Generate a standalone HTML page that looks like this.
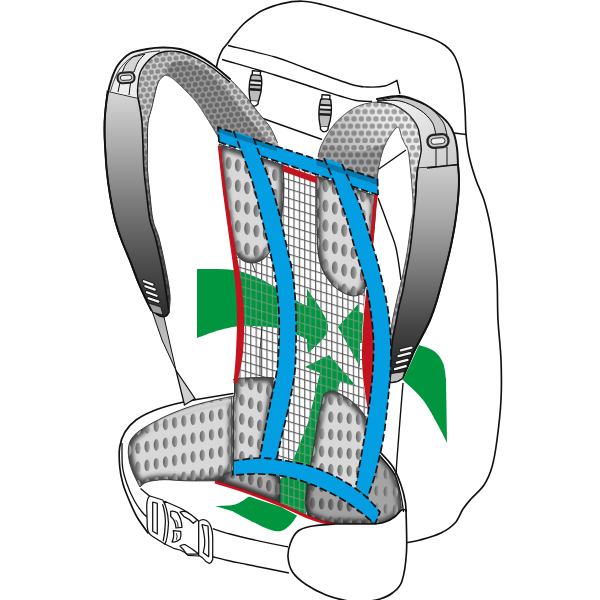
<!DOCTYPE html>
<html lang="en"><head><meta charset="utf-8"><title>Backpack ventilation system</title>
<style>html,body{margin:0;padding:0;background:#fff;overflow:hidden}svg{display:block}</style>
</head><body>
<svg width="600" height="600" viewBox="0 0 600 600">
<defs>
<linearGradient id="gL" gradientUnits="userSpaceOnUse" x1="0" y1="92" x2="0" y2="312">
<stop offset="0" stop-color="#d6d6d6"/><stop offset="0.25" stop-color="#ababab"/><stop offset="0.5" stop-color="#7c7c7c"/><stop offset="0.75" stop-color="#525252"/><stop offset="1" stop-color="#2e2e2e"/></linearGradient>
<linearGradient id="gR" gradientUnits="userSpaceOnUse" x1="0" y1="165" x2="0" y2="380">
<stop offset="0" stop-color="#cccccc"/><stop offset="0.25" stop-color="#a8a8a8"/><stop offset="0.5" stop-color="#787878"/><stop offset="0.75" stop-color="#454545"/><stop offset="0.92" stop-color="#2c2c2c"/><stop offset="1" stop-color="#2a2a2a"/></linearGradient>
<pattern id="mS" patternUnits="userSpaceOnUse" width="6.50" height="11.30" patternTransform="rotate(-6)"><rect width="6.50" height="11.30" fill="#d4d4d4"/><circle cx="3.25" cy="2.83" r="2.60" fill="#8a8a8a"/><circle cx="0" cy="8.48" r="2.60" fill="#8a8a8a"/><circle cx="6.50" cy="8.48" r="2.60" fill="#8a8a8a"/></pattern>
<pattern id="mSd" patternUnits="userSpaceOnUse" width="6.50" height="11.30" patternTransform="rotate(-6)"><rect width="6.50" height="11.30" fill="#9c9c9c"/><circle cx="3.25" cy="2.83" r="2.60" fill="#686868"/><circle cx="0" cy="8.48" r="2.60" fill="#686868"/><circle cx="6.50" cy="8.48" r="2.60" fill="#686868"/></pattern>
<pattern id="mB" patternUnits="userSpaceOnUse" width="7.30" height="14.40" patternTransform="rotate(0)"><rect width="7.30" height="14.40" fill="#efefef"/><circle cx="3.65" cy="3.60" r="2.75" fill="#a4a4a4"/><circle cx="0" cy="10.80" r="2.75" fill="#a4a4a4"/><circle cx="7.30" cy="10.80" r="2.75" fill="#a4a4a4"/></pattern>
<pattern id="mBd" patternUnits="userSpaceOnUse" width="7.30" height="14.40" patternTransform="rotate(0)"><rect width="7.30" height="14.40" fill="#a2a2a2"/><circle cx="3.65" cy="3.60" r="2.75" fill="#6e6e6e"/><circle cx="0" cy="10.80" r="2.75" fill="#6e6e6e"/><circle cx="7.30" cy="10.80" r="2.75" fill="#6e6e6e"/></pattern>
<linearGradient id="shR" gradientUnits="userSpaceOnUse" x1="420" y1="100" x2="325" y2="175"><stop offset="0" stop-color="#000" stop-opacity="0"/><stop offset="0.35" stop-color="#000" stop-opacity="0.03"/><stop offset="0.6" stop-color="#000" stop-opacity="0.16"/><stop offset="1" stop-color="#000" stop-opacity="0.3"/></linearGradient>
<pattern id="grid" patternUnits="userSpaceOnUse" width="5.4" height="9.3" patternTransform="matrix(1 0.3 0 1 282.6 168)">
<path d="M0 0.6H5.4M0.6 0V9.3" stroke="#5e5e5e" stroke-width="1.15" fill="none"/></pattern>
<pattern id="gridg" patternUnits="userSpaceOnUse" width="5.4" height="9.3" patternTransform="matrix(1 0.3 0 1 282.6 168)">
<path d="M0 0.6H5.4M0.6 0V9.3" stroke="#62987a" stroke-width="1.15" fill="none"/></pattern>
<linearGradient id="dimp" x1="0" y1="0" x2="1" y2="0"><stop offset="0" stop-color="#626262"/><stop offset="1" stop-color="#adadad"/></linearGradient>
<filter id="blur2" x="-20%" y="-20%" width="140%" height="140%"><feGaussianBlur stdDeviation="2.2"/></filter>
<linearGradient id="gW" gradientUnits="userSpaceOnUse" x1="0" y1="312" x2="0" y2="400"><stop offset="0" stop-color="#b2b2b2"/><stop offset="1" stop-color="#d6d6d6"/></linearGradient>
<linearGradient id="shL" gradientUnits="userSpaceOnUse" x1="0" y1="110" x2="0" y2="312"><stop offset="0" stop-color="#000" stop-opacity="0"/><stop offset="0.4" stop-color="#000" stop-opacity="0.35"/><stop offset="1" stop-color="#000" stop-opacity="0.7"/></linearGradient>
<linearGradient id="gBR" gradientUnits="userSpaceOnUse" x1="400" y1="100" x2="440" y2="168"><stop offset="0" stop-color="#efefef"/><stop offset="1" stop-color="#cfcfcf"/></linearGradient>
<clipPath id="cpanel"><path d="M219.0 146.0 C219.5 150.8 221.0 166.0 222.0 175.0 C223.0 184.0 223.5 189.2 225.0 200.0 C226.5 210.8 229.0 227.2 231.0 240.0 C233.0 252.8 235.5 264.5 237.0 277.0 C238.5 289.5 239.7 302.5 240.0 315.0 C240.3 327.5 239.8 339.5 239.0 352.0 C238.2 364.5 236.0 382.7 235.0 390.0 C234.0 397.3 233.3 395.0 233.0 396.0 L233.0 396.0 C230.0 410.2 218.0 466.8 215.0 481.0 L215.0 481.0 C220.3 482.7 236.0 487.2 247.0 491.0 C258.0 494.8 270.8 499.8 281.0 504.0 C291.2 508.2 300.3 512.8 308.0 516.0 C315.7 519.2 323.8 521.8 327.0 523.0 L327.0 523.0 C335.5 523.2 369.5 523.8 378.0 524.0 L378.0 524.0 C377.7 516.7 377.0 494.0 376.0 480.0 C375.0 466.0 373.3 451.7 372.0 440.0 C370.7 428.3 369.5 420.0 368.0 410.0 C366.5 400.0 364.0 391.7 363.0 380.0 C362.0 368.3 361.7 354.2 362.0 340.0 C362.3 325.8 363.3 310.0 365.0 295.0 C366.7 280.0 370.3 262.5 372.0 250.0 C373.7 237.5 374.1 229.2 375.0 220.0 C375.9 210.8 377.1 199.2 377.5 195.0 L378.0 180.0 L219.0 128.0 Z"/></clipPath>
<clipPath id="cgreen"><path d="M197.0 269.0 C203.0 269.2 222.5 268.3 233.0 270.0 C243.5 271.7 252.3 275.7 260.0 279.0 C267.7 282.3 271.2 285.3 279.0 290.0 C286.8 294.7 302.3 304.2 307.0 307.0 L307.0 289.0 C310.5 295.3 327.8 316.3 328.0 327.0 C328.2 337.7 311.3 348.7 308.0 353.0 L307.0 339.0 C302.3 337.2 289.5 330.2 279.0 328.0 C268.5 325.8 253.8 325.7 244.0 326.0 C234.2 326.3 227.8 328.0 220.0 330.0 C212.2 332.0 200.8 336.7 197.0 338.0 Z"/><path d="M338 327 L359 303 L359 313 L372 313 L372 343 L360 343 L360 367 Z"/><path d="M329 355 L305 367 L320 373 L308 423 L292 463 L280 480 L280 503 L306 515 L312 470 L330 420 L340 381 L356 386 Z"/></clipPath>
<clipPath id="cp1"><path d="M219.0 144.0 C229.7 147.5 272.3 161.5 283.0 165.0 L284.0 185.0 C283.8 188.3 283.7 198.3 283.0 205.0 C282.3 211.7 281.3 218.7 280.0 225.0 C278.7 231.3 276.8 238.3 275.0 243.0 C273.2 247.7 271.2 250.2 269.0 253.0 C266.8 255.8 264.8 258.3 262.0 260.0 C259.2 261.7 255.3 263.0 252.0 263.0 C248.7 263.0 244.8 262.0 242.0 260.0 C239.2 258.0 236.8 254.3 235.0 251.0 C233.2 247.7 231.7 241.8 231.0 240.0 L231.0 240.0 C230.0 233.3 226.5 210.8 225.0 200.0 C223.5 189.2 223.0 184.0 222.0 175.0 C221.0 166.0 219.5 150.8 219.0 146.0 Z"/></clipPath>
<clipPath id="cp2"><path d="M316.7 176.0 C326.6 179.3 366.1 192.7 376.0 196.0 L375.0 220.0 C374.5 225.0 373.2 240.8 372.0 250.0 C370.8 259.2 369.2 268.5 368.0 275.0 C366.8 281.5 365.5 286.7 365.0 289.0 L363.0 293.0 C361.3 293.5 357.1 296.7 352.7 296.0 C348.3 295.3 341.4 292.4 336.7 288.7 C332.0 285.0 327.7 279.3 324.7 274.0 C321.7 268.7 320.0 264.0 318.7 256.7 C317.4 249.4 317.3 239.4 317.0 230.0 C316.7 220.6 316.8 205.0 316.7 200.0 Z"/></clipPath>
<clipPath id="cp3"><path d="M234.5 381.0 C234.9 380.6 230.9 379.1 237.0 378.5 C243.1 377.9 265.0 377.2 271.0 377.5 C277.0 377.8 272.7 379.6 273.0 380.0 L273.0 380.0 C273.0 382.3 273.8 386.5 273.0 394.0 C272.2 401.5 269.5 414.3 268.0 425.0 C266.5 435.7 262.0 449.2 264.0 458.0 C266.0 466.8 277.3 474.7 280.0 478.0 L280.0 503.0 C274.5 501.0 257.8 494.7 247.0 491.0 C236.2 487.3 220.3 482.7 215.0 481.0 L215.0 481.0 L231.5 470.0 L231.5 400.0 L234.5 396.0 Z"/></clipPath>
<clipPath id="cp4"><path d="M305.0 503.0 C305.7 498.3 307.7 483.8 309.0 475.0 C310.3 466.2 311.5 459.2 313.0 450.0 C314.5 440.8 316.3 428.8 318.0 420.0 C319.7 411.2 322.2 400.8 323.0 397.0 L324.0 394.0 C325.5 393.5 328.7 390.0 333.0 391.0 C337.3 392.0 345.0 396.3 350.0 400.0 C355.0 403.7 360.2 409.2 363.0 413.0 C365.8 416.8 366.3 421.3 367.0 423.0 L372.0 440.0 C373.0 442.5 378.0 445.0 378.0 455.0 C378.0 465.0 372.0 488.5 372.0 500.0 C372.0 511.5 377.0 520.0 378.0 524.0 L327.0 523.0 C323.8 521.8 311.2 517.2 308.0 516.0 Z"/></clipPath>
<clipPath id="cp5"><path d="M368.0 440.0 C368.7 440.0 370.2 437.7 372.0 440.0 C373.8 442.3 375.8 449.2 379.0 454.0 C382.2 458.8 387.8 463.7 391.0 469.0 C394.2 474.3 396.2 479.5 398.0 486.0 C399.8 492.5 400.9 504.3 401.5 508.0 L401.5 508.0 C400.3 509.4 397.2 514.2 394.5 516.5 C391.8 518.8 388.2 520.2 385.0 521.5 C381.8 522.8 376.7 523.6 375.0 524.0 L360.0 505.0 Z"/></clipPath>
<clipPath id="cp6"><path d="M233.5 396.0 C229.2 396.9 215.4 399.7 207.5 401.7 C199.6 403.7 193.2 405.4 186.0 408.0 C178.8 410.6 171.2 413.5 164.0 417.0 C156.8 420.5 147.9 425.2 142.5 428.8 C137.1 432.4 134.0 435.1 131.7 438.5 C129.3 441.9 128.8 445.1 128.4 449.0 C128.0 452.9 128.6 457.7 129.5 462.0 C130.4 466.3 132.2 470.8 134.0 475.0 C135.8 479.2 139.0 485.0 140.0 487.0 L140.0 487.0 C141.2 486.2 143.0 483.2 147.0 482.0 C151.0 480.8 157.5 479.9 164.0 479.7 C170.5 479.5 177.5 480.6 186.0 480.8 C194.5 481.0 210.2 480.8 215.0 480.8 L215.0 480.8 C218.1 479.0 230.4 471.8 233.5 470.0 Z"/></clipPath>
</defs>
<path d="M216.3 67.8 C216.7 66.3 217.4 62.0 218.4 59.0 C219.4 56.0 221.0 52.2 222.5 49.7 C224.0 47.2 225.2 46.3 227.2 43.8 C229.1 41.3 231.5 37.8 234.2 34.5 C236.9 31.2 240.2 27.1 243.5 24.0 C246.8 20.9 250.7 18.1 254.0 15.8 C257.3 13.5 258.6 12.0 263.3 10.0 C268.0 8.0 275.6 5.1 282.0 3.6 C288.4 2.1 295.3 1.1 302.0 1.2 C308.7 1.3 314.0 2.6 322.0 4.5 C330.0 6.4 338.2 8.9 350.0 12.5 C361.8 16.1 380.0 21.9 393.0 26.0 C406.0 30.1 419.3 33.8 428.0 37.0 C436.7 40.2 440.5 42.2 445.0 45.5 C449.5 48.8 452.2 51.2 455.0 57.0 C457.8 62.8 460.3 71.2 462.0 80.0 C463.7 88.8 464.3 101.0 465.0 110.0 C465.7 119.0 465.3 126.3 466.0 134.0 C466.7 141.7 467.3 148.3 469.0 156.0 C470.7 163.7 473.5 172.7 476.0 180.0 C478.5 187.3 481.7 192.7 484.0 200.0 C486.3 207.3 488.3 215.7 490.0 224.0 C491.7 232.3 492.8 240.7 494.0 250.0 C495.2 259.3 496.3 268.3 497.0 280.0 C497.7 291.7 497.3 306.7 498.0 320.0 C498.7 333.3 500.5 346.7 501.0 360.0 C501.5 373.3 501.7 386.7 501.0 400.0 C500.3 413.3 498.5 428.8 497.0 440.0 C495.5 451.2 494.2 459.5 492.0 467.0 C489.8 474.5 487.5 479.7 484.0 485.0 C480.5 490.3 474.5 495.0 471.0 499.0 C467.5 503.0 465.7 505.0 463.0 509.0 C460.3 513.0 458.7 519.0 455.0 523.0 C451.3 527.0 446.8 530.2 441.0 533.0 C435.2 535.8 426.0 538.3 420.0 540.0 C414.0 541.7 407.5 542.5 405.0 543.0 L300 400 Z" fill="#fff" stroke="none" stroke-width="1.65" stroke-linejoin="round"/>
<path d="M216.3 67.8 C216.7 66.3 217.4 62.0 218.4 59.0 C219.4 56.0 221.0 52.2 222.5 49.7 C224.0 47.2 225.2 46.3 227.2 43.8 C229.1 41.3 231.5 37.8 234.2 34.5 C236.9 31.2 240.2 27.1 243.5 24.0 C246.8 20.9 250.7 18.1 254.0 15.8 C257.3 13.5 258.6 12.0 263.3 10.0 C268.0 8.0 275.6 5.1 282.0 3.6 C288.4 2.1 295.3 1.1 302.0 1.2 C308.7 1.3 314.0 2.6 322.0 4.5 C330.0 6.4 338.2 8.9 350.0 12.5 C361.8 16.1 380.0 21.9 393.0 26.0 C406.0 30.1 419.3 33.8 428.0 37.0 C436.7 40.2 440.5 42.2 445.0 45.5 C449.5 48.8 452.2 51.2 455.0 57.0 C457.8 62.8 460.3 71.2 462.0 80.0 C463.7 88.8 464.3 101.0 465.0 110.0 C465.7 119.0 465.3 126.3 466.0 134.0 C466.7 141.7 467.3 148.3 469.0 156.0 C470.7 163.7 473.5 172.7 476.0 180.0 C478.5 187.3 481.7 192.7 484.0 200.0 C486.3 207.3 488.3 215.7 490.0 224.0 C491.7 232.3 492.8 240.7 494.0 250.0 C495.2 259.3 496.3 268.3 497.0 280.0 C497.7 291.7 497.3 306.7 498.0 320.0 C498.7 333.3 500.5 346.7 501.0 360.0 C501.5 373.3 501.7 386.7 501.0 400.0 C500.3 413.3 498.5 428.8 497.0 440.0 C495.5 451.2 494.2 459.5 492.0 467.0 C489.8 474.5 487.5 479.7 484.0 485.0 C480.5 490.3 474.5 495.0 471.0 499.0 C467.5 503.0 465.7 505.0 463.0 509.0 C460.3 513.0 458.7 519.0 455.0 523.0 C451.3 527.0 446.8 530.2 441.0 533.0 C435.2 535.8 426.0 538.3 420.0 540.0 C414.0 541.7 407.5 542.5 405.0 543.0" fill="none" stroke="#111" stroke-width="1.65" stroke-linecap="round"/>
<path d="M228.0 45.5 C235.8 47.4 262.2 53.2 275.0 57.0 C287.8 60.8 292.5 63.5 305.0 68.0 C317.5 72.5 339.7 80.8 350.0 84.0 C360.3 87.2 361.2 86.7 367.0 87.0 C372.8 87.3 380.0 87.1 385.0 86.0 C390.0 84.9 395.0 81.4 397.0 80.5 L400 94" fill="none" stroke="#111" stroke-width="1.4"/>
<path d="M222.0 59.5 C230.8 62.1 260.0 70.4 275.0 75.0 C290.0 79.6 301.2 83.5 312.0 87.0 C322.8 90.5 332.7 93.8 340.0 96.0 C347.3 98.2 350.7 99.6 356.0 100.5 C361.3 101.4 369.3 101.3 372.0 101.5" fill="none" stroke="#111" stroke-width="1.4"/>
<path d="M454 133 L466 134.5" stroke="#111" stroke-width="1.4"/>
<path d="M263 118.5 L322 139.5" fill="none" stroke="#111" stroke-width="1.4"/>
<path d="M377.5 170 L406 150" stroke="#111" stroke-width="1.4"/>
<path d="M378.0 198.0 C379.7 202.5 385.0 216.7 388.0 225.0 C391.0 233.3 393.8 238.8 396.0 248.0 C398.2 257.2 400.2 274.7 401.0 280.0" fill="none" stroke="#111" stroke-width="1.4"/>
<path d="M403.0 383.0 C402.5 389.2 401.0 407.3 400.0 420.0 C399.0 432.7 397.7 449.8 397.0 459.0 C396.3 468.2 396.2 472.3 396.0 475.0" fill="none" stroke="#111" stroke-width="1.4"/>
<g stroke="#111" stroke-width="1.4" stroke-linejoin="round" transform="rotate(4 255.2 89.0)"><rect x="251.2" y="71.0" width="8.1" height="5" fill="#fff"/><path d="M250.2 75.5 Q247.4 88.4 251.2 101.2 L259.3 101.2 Q263.1 88.4 260.3 75.5 Q255.2 74.3 250.2 75.5 Z" fill="#bcbcbc" stroke-width="1.4"/><rect x="249.3" y="79.6" width="11.9" height="1.9" fill="#1a1a1a" stroke="none"/><rect x="249.3" y="84.0" width="11.9" height="1.9" fill="#1a1a1a" stroke="none"/><rect x="249.3" y="88.3" width="11.9" height="2.6" fill="#1a1a1a" stroke="none"/><rect x="250.0" y="82.0" width="10.5" height="1.6" fill="#eee" stroke="none"/><path d="M251.4 101.2 v2.5 q3.9 5 7.7 0 v-2.5" fill="#fff"/></g>
<g stroke="#111" stroke-width="1.4" stroke-linejoin="round" transform="rotate(3 325.0 114.0)"><rect x="321.0" y="95.0" width="8.0" height="5" fill="#fff"/><path d="M320.0 99.5 Q317.2 113.2 321.0 126.9 L329.0 126.9 Q332.8 113.2 330.0 99.5 Q325.0 98.3 320.0 99.5 Z" fill="#bcbcbc" stroke-width="1.4"/><rect x="319.1" y="104.1" width="11.8" height="1.9" fill="#1a1a1a" stroke="none"/><rect x="319.1" y="108.7" width="11.8" height="1.9" fill="#1a1a1a" stroke="none"/><rect x="319.1" y="113.2" width="11.8" height="2.6" fill="#1a1a1a" stroke="none"/><rect x="319.8" y="106.6" width="10.4" height="1.6" fill="#eee" stroke="none"/><path d="M321.2 126.9 v2.5 q3.8 5 7.6 0 v-2.5" fill="#fff"/></g>
<path d="M419.0 345.0 C421.5 346.0 430.0 348.0 434.0 351.0 C438.0 354.0 441.0 358.3 443.0 363.0 C445.0 367.7 445.5 376.3 446.0 379.0 L447.0 443.0 C445.7 440.3 443.0 434.2 439.0 427.0 C435.0 419.8 429.0 407.8 423.0 400.0 C417.0 392.2 406.3 383.3 403.0 380.0 Z" fill="#00953e"/>
<path d="M152 311 L162 340 L176 370.5 L170 344 L164 317 Z" fill="url(#gW)" stroke="#111" stroke-width="1" stroke-linejoin="round"/>
<path d="M230.0 79.0 C227.2 76.7 218.5 69.0 213.0 65.0 C207.5 61.0 202.5 57.7 197.0 55.0 C191.5 52.3 185.7 50.2 180.0 49.0 C174.3 47.8 168.5 47.5 163.0 47.5 C157.5 47.5 152.5 48.0 147.0 49.0 C141.5 50.0 134.8 50.8 130.0 53.5 C125.2 56.2 121.0 60.9 118.0 65.0 C115.0 69.1 113.8 73.0 112.0 78.0 C110.2 83.0 108.7 88.8 107.5 95.0 C106.3 101.2 105.5 109.2 105.0 115.0 C104.5 120.8 104.5 125.0 104.5 130.0 C104.5 135.0 104.6 138.3 105.0 145.0 C105.4 151.7 105.9 161.7 106.7 170.0 C107.5 178.3 108.6 186.7 110.0 195.0 C111.4 203.3 113.1 212.5 115.0 220.0 C116.9 227.5 118.9 233.0 121.5 240.0 C124.1 247.0 127.7 254.8 130.5 262.0 C133.3 269.2 136.0 276.9 138.5 283.0 C141.0 289.1 143.4 294.1 145.5 298.5 C147.6 302.9 150.1 307.7 151.0 309.5 L151.0 310.0 C152.5 311.0 157.5 315.0 160.0 316.0 C162.5 317.0 164.5 316.7 166.0 316.0 C167.5 315.3 168.5 312.7 169.0 312.0 L169.0 312.0 C169.2 309.2 170.5 302.0 170.0 295.0 C169.5 288.0 167.8 279.5 166.0 270.0 C164.2 260.5 161.2 246.3 159.0 238.0 C156.8 229.7 154.5 227.2 153.0 220.0 C151.5 212.8 150.9 203.3 150.0 195.0 C149.1 186.7 147.9 178.3 147.5 170.0 C147.1 161.7 147.4 152.8 147.5 145.0 C147.6 137.2 147.2 129.3 148.0 123.0 C148.8 116.7 150.3 113.7 152.0 107.0 C153.7 100.3 155.8 88.3 158.0 83.0 C160.2 77.7 163.8 76.3 165.0 75.0 L165.0 75.0 C166.2 75.5 168.7 75.5 172.0 78.0 C175.3 80.5 180.8 85.8 185.0 90.0 C189.2 94.2 193.7 98.8 197.0 103.0 C200.3 107.2 202.3 110.8 205.0 115.0 C207.7 119.2 210.5 123.8 213.0 128.0 C215.5 132.2 218.8 138.0 220.0 140.0 L220.0 140.0 L281.0 152.0 L277.5 143.0 L270.0 127.0 L257.0 111.0 L244.0 94.0 Z" fill="url(#mS)"/>
<path d="M169.0 312.0 C169.2 309.2 170.5 302.0 170.0 295.0 C169.5 288.0 167.8 279.5 166.0 270.0 C164.2 260.5 161.2 246.3 159.0 238.0 C156.8 229.7 154.5 227.2 153.0 220.0 C151.5 212.8 150.9 203.3 150.0 195.0 C149.1 186.7 147.9 178.3 147.5 170.0 C147.1 161.7 147.4 152.8 147.5 145.0 C147.6 137.2 147.9 126.7 148.0 123.0 L142.0 123.0 C142.2 126.7 142.7 137.2 143.0 145.0 C143.3 152.8 143.4 161.7 144.0 170.0 C144.6 178.3 145.7 186.7 146.7 195.0 C147.7 203.3 148.5 212.8 150.0 220.0 C151.5 227.2 153.4 229.7 155.5 238.0 C157.6 246.3 160.7 260.5 162.5 270.0 C164.3 279.5 165.4 288.0 166.5 295.0 C167.6 302.0 168.6 309.2 169.0 312.0 Z" fill="url(#shL)"/>
<path d="M165.0 76.0 C165.2 74.8 165.3 71.2 166.5 69.0 C167.7 66.8 169.8 64.3 172.0 63.0 C174.2 61.7 176.3 60.8 180.0 61.0 C183.7 61.2 189.0 62.0 194.0 64.0 C199.0 66.0 204.7 68.7 210.0 73.0 C215.3 77.3 221.0 84.2 226.0 90.0 C231.0 95.8 235.3 102.3 240.0 108.0 C244.7 113.7 249.7 119.0 254.0 124.0 C258.3 129.0 262.8 134.2 266.0 138.0 C269.2 141.8 271.8 145.5 273.0 147.0 L274.0 151.0 L222.0 142.0 L220.0 140.0 C218.8 138.0 215.5 132.2 213.0 128.0 C210.5 123.8 207.7 119.2 205.0 115.0 C202.3 110.8 200.3 107.2 197.0 103.0 C193.7 98.8 189.2 94.2 185.0 90.0 C180.8 85.8 175.3 80.5 172.0 78.0 C168.7 75.5 166.2 75.5 165.0 75.0 Z" fill="url(#mSd)"/>
<path d="M107.5 91.0 C107.1 95.0 105.5 108.5 105.0 115.0 C104.5 121.5 104.5 125.0 104.5 130.0 C104.5 135.0 104.6 138.3 105.0 145.0 C105.4 151.7 105.9 161.7 106.7 170.0 C107.5 178.3 108.6 186.7 110.0 195.0 C111.4 203.3 113.1 212.5 115.0 220.0 C116.9 227.5 118.9 233.0 121.5 240.0 C124.1 247.0 127.7 254.8 130.5 262.0 C133.3 269.2 136.0 276.9 138.5 283.0 C141.0 289.1 143.4 294.1 145.5 298.5 C147.6 302.9 150.1 307.7 151.0 309.5 L151.0 310.0 C152.5 311.0 157.5 315.0 160.0 316.0 C162.5 317.0 164.5 316.7 166.0 316.0 C167.5 315.3 168.5 312.7 169.0 312.0 L169.0 312.0 C168.6 309.2 167.6 302.0 166.5 295.0 C165.4 288.0 164.3 279.5 162.5 270.0 C160.7 260.5 157.6 246.3 155.5 238.0 C153.4 229.7 151.5 227.2 150.0 220.0 C148.5 212.8 147.7 203.3 146.7 195.0 C145.7 186.7 144.6 178.3 144.0 170.0 C143.4 161.7 143.3 152.8 143.0 145.0 C142.7 137.2 142.5 129.2 142.0 123.0 C141.5 116.8 140.7 112.2 140.0 108.0 C139.3 103.8 138.3 99.7 138.0 98.0 Z" fill="url(#gL)" stroke="#111" stroke-width="1.65" stroke-linejoin="round"/>
<path d="M107.5 91.0 C108.2 88.8 110.2 82.3 112.0 78.0 C113.8 73.7 115.0 69.1 118.0 65.0 C121.0 60.9 125.2 56.2 130.0 53.5 C134.8 50.8 141.5 50.0 147.0 49.0 C152.5 48.0 157.5 47.5 163.0 47.5 C168.5 47.5 174.3 47.8 180.0 49.0 C185.7 50.2 191.5 52.3 197.0 55.0 C202.5 57.7 207.5 61.0 213.0 65.0 C218.5 69.0 227.2 76.7 230.0 79.0 L230.0 82.0 C227.0 79.6 217.7 71.5 212.0 67.5 C206.3 63.5 201.3 60.6 196.0 58.0 C190.7 55.4 185.2 53.1 180.0 52.0 C174.8 50.9 169.2 51.0 165.0 51.5 C160.8 52.0 158.0 53.2 155.0 55.0 C152.0 56.8 149.5 59.0 147.0 62.0 C144.5 65.0 141.6 68.3 140.0 73.0 C138.4 77.7 137.8 85.8 137.5 90.0 C137.2 94.2 137.9 96.7 138.0 98.0 Z" fill="#ececec"/>
<path d="M230.0 79.0 C227.2 76.7 218.5 69.0 213.0 65.0 C207.5 61.0 202.5 57.7 197.0 55.0 C191.5 52.3 185.7 50.2 180.0 49.0 C174.3 47.8 168.5 47.5 163.0 47.5 C157.5 47.5 152.5 48.0 147.0 49.0 C141.5 50.0 134.8 50.8 130.0 53.5 C125.2 56.2 121.0 60.9 118.0 65.0 C115.0 69.1 113.8 73.0 112.0 78.0 C110.2 83.0 108.7 88.8 107.5 95.0 C106.3 101.2 105.5 109.2 105.0 115.0 C104.5 120.8 104.5 125.0 104.5 130.0 C104.5 135.0 104.6 138.3 105.0 145.0 C105.4 151.7 105.9 161.7 106.7 170.0 C107.5 178.3 108.6 186.7 110.0 195.0 C111.4 203.3 113.1 212.5 115.0 220.0 C116.9 227.5 118.9 233.0 121.5 240.0 C124.1 247.0 127.7 254.8 130.5 262.0 C133.3 269.2 136.0 276.9 138.5 283.0 C141.0 289.1 143.4 294.1 145.5 298.5 C147.6 302.9 150.1 307.7 151.0 309.5" fill="none" stroke="#111" stroke-width="1.95" stroke-linecap="round"/>
<path d="M138.0 98.0 C137.9 96.7 137.2 94.2 137.5 90.0 C137.8 85.8 138.4 77.7 140.0 73.0 C141.6 68.3 144.5 65.0 147.0 62.0 C149.5 59.0 152.0 56.8 155.0 55.0 C158.0 53.2 160.8 52.0 165.0 51.5 C169.2 51.0 174.8 50.9 180.0 52.0 C185.2 53.1 190.7 55.4 196.0 58.0 C201.3 60.6 206.3 63.5 212.0 67.5 C217.7 71.5 227.0 79.6 230.0 82.0" fill="none" stroke="#111" stroke-width="1.3"/>
<path d="M230.0 79.0 C232.3 81.5 239.5 88.7 244.0 94.0 C248.5 99.3 252.7 105.5 257.0 111.0 C261.3 116.5 266.6 121.7 270.0 127.0 C273.4 132.3 276.2 140.3 277.5 143.0" fill="none" stroke="#333" stroke-width="0.9"/>
<path d="M169.0 312.0 C169.2 309.2 170.5 302.0 170.0 295.0 C169.5 288.0 167.8 279.5 166.0 270.0 C164.2 260.5 161.2 246.3 159.0 238.0 C156.8 229.7 154.5 227.2 153.0 220.0 C151.5 212.8 150.9 203.3 150.0 195.0 C149.1 186.7 147.9 178.3 147.5 170.0 C147.1 161.7 147.4 152.8 147.5 145.0 C147.6 137.2 147.2 129.3 148.0 123.0 C148.8 116.7 150.3 113.7 152.0 107.0 C153.7 100.3 155.8 88.3 158.0 83.0 C160.2 77.7 163.8 76.3 165.0 75.0" fill="none" stroke="#333" stroke-width="1"/>
<path d="M165.0 75.0 C166.2 75.5 168.7 75.5 172.0 78.0 C175.3 80.5 180.8 85.8 185.0 90.0 C189.2 94.2 193.7 98.8 197.0 103.0 C200.3 107.2 202.3 110.8 205.0 115.0 C207.7 119.2 210.5 123.8 213.0 128.0 C215.5 132.2 218.8 138.0 220.0 140.0" fill="none" stroke="#555" stroke-width="0.9"/>
<path d="M110.3 91.5 C111.0 89.5 112.8 83.4 114.5 79.5 C116.2 75.6 117.7 71.7 120.5 68.0 C123.3 64.3 127.1 60.1 131.5 57.5 C135.9 54.9 142.2 53.6 147.0 52.5 C151.8 51.4 157.8 51.2 160.0 51.0" fill="none" stroke="#222" stroke-width="0.9"/>
<path d="M118 92 L120.5 80 M129 95 L130.5 83" stroke="#111" stroke-width="1" fill="none"/>
<path d="M122.0 73.0 C122.7 71.5 124.2 66.7 126.0 64.0 C127.8 61.3 131.8 58.2 133.0 57.0 L145.0 54.0 C143.8 55.3 139.8 59.0 138.0 62.0 C136.2 65.0 134.7 70.3 134.0 72.0 Z" fill="#d4d4d4" stroke="#111" stroke-width="1"/>
<g transform="rotate(-4 126 77.5)"><rect x="117.5" y="72.5" width="17" height="10.5" rx="5" fill="#c9c9c9" stroke="#222" stroke-width="2.2"/><rect x="120.3" y="75.3" width="11.4" height="4.9" rx="2.4" fill="#eee" stroke="#222" stroke-width="0.9"/></g>
<path d="M148.2 303 L160.8 307 L163 315 L153 312.3 Z" fill="#9c9c9c" stroke="#111" stroke-width="0.8"/><g stroke-linecap="round" fill="none"><path d="M143.8 281.2 L152.6 284.6" stroke="#111" stroke-width="3.9"/><path d="M145.3 286.2 L154.8 289.6" stroke="#111" stroke-width="3.9"/><path d="M146.9 292.2 L156.6 295.8" stroke="#111" stroke-width="3.9"/><path d="M148.6 298.2 L158.4 301.6" stroke="#111" stroke-width="3.9"/><path d="M143.8 281.2 L152.6 284.6" stroke="#f4f4f4" stroke-width="2.2"/><path d="M145.3 286.2 L154.8 289.6" stroke="#f4f4f4" stroke-width="2.2"/><path d="M146.9 292.2 L156.6 295.8" stroke="#f4f4f4" stroke-width="2.2"/><path d="M148.6 298.2 L158.4 301.6" stroke="#f4f4f4" stroke-width="2.2"/></g>
<path d="M318.0 157.0 C318.5 155.2 319.0 150.5 321.0 146.0 C323.0 141.5 326.7 134.8 330.0 130.0 C333.3 125.2 336.5 121.4 341.0 117.5 C345.5 113.6 351.0 109.1 357.0 106.5 C363.0 103.9 370.8 102.2 377.0 102.0 C383.2 101.8 388.8 103.0 394.0 105.0 C399.2 107.0 404.3 110.8 408.0 114.0 C411.7 117.2 414.7 122.3 416.0 124.0 L416.0 124.0 C416.4 125.0 417.8 127.3 418.5 130.0 C419.2 132.7 419.8 136.7 420.3 140.0 C420.8 143.3 421.4 146.7 421.3 150.0 C421.2 153.3 420.1 156.7 419.5 160.0 C418.9 163.3 418.0 166.7 417.5 170.0 C417.0 173.3 416.9 175.0 416.5 180.0 C416.1 185.0 415.9 192.7 415.3 200.0 C414.7 207.3 413.9 215.7 413.0 224.0 C412.1 232.3 411.2 241.7 410.0 250.0 C408.8 258.3 406.9 267.3 405.7 274.0 C404.5 280.7 404.1 284.6 403.0 290.0 C401.9 295.4 400.2 301.1 399.0 306.7 C397.8 312.2 396.9 317.8 395.8 323.3 C394.7 328.9 393.3 334.4 392.5 340.0 C391.7 345.6 391.2 351.7 390.8 356.7 C390.4 361.7 390.1 367.8 390.0 370.0 L388.5 365.0 C388.7 361.2 388.8 349.5 389.5 342.0 C390.2 334.5 391.2 327.5 392.5 320.0 C393.8 312.5 395.8 304.7 397.5 297.0 C399.2 289.3 401.3 281.8 403.0 274.0 C404.7 266.2 406.2 258.3 407.5 250.0 C408.8 241.7 410.1 230.3 411.0 224.0 C411.9 217.7 412.7 216.0 413.0 212.0 C413.3 208.0 413.1 203.7 413.0 200.0 C412.9 196.3 412.4 193.3 412.2 190.0 C411.9 186.7 411.8 183.3 411.5 180.0 C411.2 176.7 410.8 173.3 410.5 170.0 C410.2 166.7 409.9 163.3 409.5 160.0 C409.1 156.7 408.6 152.3 408.0 150.0 C407.4 147.7 407.0 148.0 406.0 146.0 C405.0 144.0 403.3 141.2 402.0 138.0 C400.7 134.8 398.7 128.8 398.0 127.0 L398.0 127.0 C396.7 128.5 392.5 132.2 390.0 136.0 C387.5 139.8 384.8 145.0 383.0 150.0 C381.2 155.0 380.0 161.0 379.0 166.0 C378.0 171.0 377.3 177.7 377.0 180.0 L377.0 180.0 L377.0 195.0 L318.0 175.0 Z" fill="url(#mB)"/>
<path d="M318.0 157.0 C318.5 155.2 319.0 150.5 321.0 146.0 C323.0 141.5 326.7 134.8 330.0 130.0 C333.3 125.2 336.5 121.4 341.0 117.5 C345.5 113.6 351.0 109.1 357.0 106.5 C363.0 103.9 370.8 102.2 377.0 102.0 C383.2 101.8 388.8 103.0 394.0 105.0 C399.2 107.0 404.3 110.8 408.0 114.0 C411.7 117.2 414.7 122.3 416.0 124.0 L416.0 124.0 C416.4 125.0 417.8 127.3 418.5 130.0 C419.2 132.7 419.8 136.7 420.3 140.0 C420.8 143.3 421.4 146.7 421.3 150.0 C421.2 153.3 420.1 156.7 419.5 160.0 C418.9 163.3 418.0 166.7 417.5 170.0 C417.0 173.3 416.9 175.0 416.5 180.0 C416.1 185.0 415.9 192.7 415.3 200.0 C414.7 207.3 413.9 215.7 413.0 224.0 C412.1 232.3 411.2 241.7 410.0 250.0 C408.8 258.3 406.9 267.3 405.7 274.0 C404.5 280.7 404.1 284.6 403.0 290.0 C401.9 295.4 400.2 301.1 399.0 306.7 C397.8 312.2 396.9 317.8 395.8 323.3 C394.7 328.9 393.3 334.4 392.5 340.0 C391.7 345.6 391.2 351.7 390.8 356.7 C390.4 361.7 390.1 367.8 390.0 370.0 L388.5 365.0 C388.7 361.2 388.8 349.5 389.5 342.0 C390.2 334.5 391.2 327.5 392.5 320.0 C393.8 312.5 395.8 304.7 397.5 297.0 C399.2 289.3 401.3 281.8 403.0 274.0 C404.7 266.2 406.2 258.3 407.5 250.0 C408.8 241.7 410.1 230.3 411.0 224.0 C411.9 217.7 412.7 216.0 413.0 212.0 C413.3 208.0 413.1 203.7 413.0 200.0 C412.9 196.3 412.4 193.3 412.2 190.0 C411.9 186.7 411.8 183.3 411.5 180.0 C411.2 176.7 410.8 173.3 410.5 170.0 C410.2 166.7 409.9 163.3 409.5 160.0 C409.1 156.7 408.6 152.3 408.0 150.0 C407.4 147.7 407.0 148.0 406.0 146.0 C405.0 144.0 403.3 141.2 402.0 138.0 C400.7 134.8 398.7 128.8 398.0 127.0 L398.0 127.0 C396.7 128.5 392.5 132.2 390.0 136.0 C387.5 139.8 384.8 145.0 383.0 150.0 C381.2 155.0 380.0 161.0 379.0 166.0 C378.0 171.0 377.3 177.7 377.0 180.0 L377.0 180.0 L377.0 195.0 L318.0 175.0 Z" fill="url(#shR)"/>
<path d="M318.0 157.0 C318.3 155.8 318.0 151.7 320.0 150.0 C322.0 148.3 325.8 147.0 330.0 147.0 C334.2 147.0 339.7 149.3 345.0 150.0 C350.3 150.7 356.5 151.7 362.0 151.0 C367.5 150.3 374.0 147.3 378.0 146.0 C382.0 144.7 384.7 143.5 386.0 143.0 L383.0 150.0 C382.3 152.7 380.0 161.0 379.0 166.0 C378.0 171.0 377.3 177.7 377.0 180.0 L377.0 195.0 L318.0 175.0 Z" fill="url(#mBd)"/>
<path d="M458.0 164.5 C458.2 167.1 459.0 174.1 459.0 180.0 C459.0 185.9 458.7 192.7 458.0 200.0 C457.3 207.3 456.3 215.7 455.0 224.0 C453.7 232.3 451.8 241.7 450.0 250.0 C448.2 258.3 446.2 265.7 444.0 274.0 C441.8 282.3 439.3 292.3 437.0 300.0 C434.7 307.7 432.8 313.3 430.0 320.0 C427.2 326.7 422.7 334.7 420.0 340.0 C417.3 345.3 415.9 347.5 414.0 351.7 C412.1 355.9 410.2 360.6 408.3 365.0 C406.4 369.4 403.5 376.1 402.5 378.3 L402.5 378.3 C401.6 378.8 399.1 380.8 397.0 381.5 C394.9 382.2 391.2 382.3 390.0 382.5 L390.0 382.5 C390.0 380.4 389.9 374.3 390.0 370.0 C390.1 365.7 390.4 361.7 390.8 356.7 C391.2 351.7 391.7 345.6 392.5 340.0 C393.3 334.4 394.7 328.9 395.8 323.3 C396.9 317.8 397.8 312.2 399.0 306.7 C400.2 301.1 401.9 295.4 403.0 290.0 C404.1 284.6 404.5 280.7 405.7 274.0 C406.9 267.3 408.8 258.3 410.0 250.0 C411.2 241.7 412.1 232.3 413.0 224.0 C413.9 215.7 414.7 207.3 415.3 200.0 C415.9 192.7 416.1 185.0 416.5 180.0 C416.9 175.0 417.2 172.1 417.5 170.0 C417.8 167.9 417.9 167.9 418.0 167.5 Z" fill="url(#gR)" stroke="#111" stroke-width="1.65" stroke-linejoin="round"/>
<path d="M377.0 99.0 C380.8 98.5 392.8 95.5 400.0 96.0 C407.2 96.5 414.0 99.3 420.0 102.0 C426.0 104.7 431.3 108.5 436.0 112.0 C440.7 115.5 445.0 119.3 448.0 123.0 C451.0 126.7 452.5 129.8 454.0 134.0 C455.5 138.2 456.3 142.9 457.0 148.0 C457.7 153.1 457.8 161.8 458.0 164.5 L418.0 167.5 C418.2 166.2 418.9 162.9 419.5 160.0 C420.1 157.1 421.2 153.3 421.3 150.0 C421.4 146.7 420.8 143.3 420.3 140.0 C419.8 136.7 419.2 132.7 418.5 130.0 C417.8 127.3 417.8 126.7 416.0 124.0 C414.2 121.3 411.7 117.2 408.0 114.0 C404.3 110.8 399.2 107.0 394.0 105.0 C388.8 103.0 379.8 102.5 377.0 102.0 Z" fill="url(#gBR)"/>
<path d="M377.0 99.0 C380.8 98.5 392.8 95.5 400.0 96.0 C407.2 96.5 414.0 99.3 420.0 102.0 C426.0 104.7 431.3 108.5 436.0 112.0 C440.7 115.5 445.0 119.3 448.0 123.0 C451.0 126.7 452.5 129.8 454.0 134.0 C455.5 138.2 456.3 143.0 457.0 148.0 C457.7 153.0 457.7 158.7 458.0 164.0 C458.3 169.3 459.0 174.0 459.0 180.0 C459.0 186.0 458.7 192.7 458.0 200.0 C457.3 207.3 456.3 215.7 455.0 224.0 C453.7 232.3 451.8 241.7 450.0 250.0 C448.2 258.3 446.2 265.7 444.0 274.0 C441.8 282.3 439.3 292.3 437.0 300.0 C434.7 307.7 432.8 313.3 430.0 320.0 C427.2 326.7 422.7 334.7 420.0 340.0 C417.3 345.3 415.9 347.5 414.0 351.7 C412.1 355.9 410.2 360.6 408.3 365.0 C406.4 369.4 403.5 376.1 402.5 378.3" fill="none" stroke="#111" stroke-width="1.95" stroke-linecap="round"/>
<path d="M377.0 102.0 C379.8 102.5 388.8 103.0 394.0 105.0 C399.2 107.0 404.3 110.8 408.0 114.0 C411.7 117.2 414.2 121.3 416.0 124.0 C417.8 126.7 417.8 127.3 418.5 130.0 C419.2 132.7 419.8 136.7 420.3 140.0 C420.8 143.3 421.4 146.7 421.3 150.0 C421.2 153.3 420.1 156.7 419.5 160.0 C418.9 163.3 418.0 166.7 417.5 170.0 C417.0 173.3 416.9 175.0 416.5 180.0 C416.1 185.0 415.5 196.7 415.3 200.0" fill="none" stroke="#111" stroke-width="1.3"/>
<path d="M377.0 180.0 C377.3 177.7 378.0 171.0 379.0 166.0 C380.0 161.0 381.2 155.0 383.0 150.0 C384.8 145.0 387.5 139.8 390.0 136.0 C392.5 132.2 396.0 126.7 398.0 127.0 C400.0 127.3 400.7 134.8 402.0 138.0 C403.3 141.2 405.0 144.0 406.0 146.0 C407.0 148.0 407.4 147.7 408.0 150.0 C408.6 152.3 409.1 156.7 409.5 160.0 C409.9 163.3 410.2 166.7 410.5 170.0 C410.8 173.3 411.2 176.7 411.5 180.0 C411.8 183.3 411.9 186.7 412.2 190.0 C412.4 193.3 412.9 196.3 413.0 200.0 C413.1 203.7 413.3 208.0 413.0 212.0 C412.7 216.0 411.9 217.7 411.0 224.0 C410.1 230.3 408.8 241.7 407.5 250.0 C406.2 258.3 404.7 266.2 403.0 274.0 C401.3 281.8 399.2 289.3 397.5 297.0 C395.8 304.7 393.8 312.5 392.5 320.0 C391.2 327.5 390.2 334.5 389.5 342.0 C388.8 349.5 388.7 361.2 388.5 365.0" fill="none" stroke="#444" stroke-width="0.9"/>
<path d="M318.0 157.0 C318.5 155.2 319.0 150.5 321.0 146.0 C323.0 141.5 326.7 134.8 330.0 130.0 C333.3 125.2 336.5 121.4 341.0 117.5 C345.5 113.6 351.0 109.1 357.0 106.5 C363.0 103.9 370.8 102.2 377.0 102.0 C383.2 101.8 388.8 103.0 394.0 105.0 C399.2 107.0 404.3 110.8 408.0 114.0 C411.7 117.2 414.7 122.3 416.0 124.0" fill="none" stroke="#444" stroke-width="0.9"/>
<path d="M377.0 101.0 C380.8 101.0 392.8 99.5 400.0 101.0 C407.2 102.5 414.7 106.5 420.0 110.0 C425.3 113.5 429.3 117.8 432.0 122.0 C434.7 126.2 435.3 132.8 436.0 135.0 L447.0 135.0 C446.3 132.8 445.8 126.5 443.0 122.0 C440.2 117.5 435.5 111.8 430.0 108.0 C424.5 104.2 415.8 100.8 410.0 99.0 C404.2 97.2 397.5 97.3 395.0 97.0 Z" fill="#c9c9c9" stroke="#111" stroke-width="1"/>
<path d="M436 147 L436 167 M447 147 L447 166" stroke="#111" stroke-width="1"/>
<path d="M427 168 L458 164.5" stroke="#111" stroke-width="1.3"/>
<g transform="rotate(-5 438 141)"><rect x="427.5" y="134.5" width="21" height="13" rx="6" fill="#c9c9c9" stroke="#222" stroke-width="2.3"/><rect x="431" y="138" width="14" height="6" rx="3" fill="#eee" stroke="#222" stroke-width="0.9"/></g>
<g stroke-linecap="round" fill="none"><path d="M400.8 350.3 L411.5 347.6" stroke="#111" stroke-width="4"/><path d="M398.5 356.2 L410.0 353.2" stroke="#111" stroke-width="4"/><path d="M396.8 362.6 L407.5 359.8" stroke="#111" stroke-width="4"/><path d="M395.0 369.2 L405.8 366.2" stroke="#111" stroke-width="4"/><path d="M400.8 350.3 L411.5 347.6" stroke="#f4f4f4" stroke-width="2.3"/><path d="M398.5 356.2 L410.0 353.2" stroke="#f4f4f4" stroke-width="2.3"/><path d="M396.8 362.6 L407.5 359.8" stroke="#f4f4f4" stroke-width="2.3"/><path d="M395.0 369.2 L405.8 366.2" stroke="#f4f4f4" stroke-width="2.3"/></g>
<path d="M391 373.5 L404.8 371.5 L402.5 378.3 L397 381.5 L390 382.5Z" fill="#bdbdbd" stroke="#111" stroke-width="1"/>
<path d="M219.0 146.0 C219.5 150.8 221.0 166.0 222.0 175.0 C223.0 184.0 223.5 189.2 225.0 200.0 C226.5 210.8 229.0 227.2 231.0 240.0 C233.0 252.8 235.5 264.5 237.0 277.0 C238.5 289.5 239.7 302.5 240.0 315.0 C240.3 327.5 239.8 339.5 239.0 352.0 C238.2 364.5 236.0 382.7 235.0 390.0 C234.0 397.3 233.3 395.0 233.0 396.0 L233.0 396.0 C230.0 410.2 218.0 466.8 215.0 481.0 L215.0 481.0 C220.3 482.7 236.0 487.2 247.0 491.0 C258.0 494.8 270.8 499.8 281.0 504.0 C291.2 508.2 300.3 512.8 308.0 516.0 C315.7 519.2 323.8 521.8 327.0 523.0 L327.0 523.0 C335.5 523.2 369.5 523.8 378.0 524.0 L378.0 524.0 C377.7 516.7 377.0 494.0 376.0 480.0 C375.0 466.0 373.3 451.7 372.0 440.0 C370.7 428.3 369.5 420.0 368.0 410.0 C366.5 400.0 364.0 391.7 363.0 380.0 C362.0 368.3 361.7 354.2 362.0 340.0 C362.3 325.8 363.3 310.0 365.0 295.0 C366.7 280.0 370.3 262.5 372.0 250.0 C373.7 237.5 374.1 229.2 375.0 220.0 C375.9 210.8 377.1 199.2 377.5 195.0 L378.0 180.0 L219.0 128.0 Z" fill="#fff"/>
<path d="M197.0 269.0 C203.0 269.2 222.5 268.3 233.0 270.0 C243.5 271.7 252.3 275.7 260.0 279.0 C267.7 282.3 271.2 285.3 279.0 290.0 C286.8 294.7 302.3 304.2 307.0 307.0 L307.0 289.0 C310.5 295.3 327.8 316.3 328.0 327.0 C328.2 337.7 311.3 348.7 308.0 353.0 L307.0 339.0 C302.3 337.2 289.5 330.2 279.0 328.0 C268.5 325.8 253.8 325.7 244.0 326.0 C234.2 326.3 227.8 328.0 220.0 330.0 C212.2 332.0 200.8 336.7 197.0 338.0 Z" fill="#00953e"/>
<g clip-path="url(#cpanel)">
<rect x="200" y="120" width="200" height="420" fill="url(#grid)"/>
<path d="M197.0 269.0 C203.0 269.2 222.5 268.3 233.0 270.0 C243.5 271.7 252.3 275.7 260.0 279.0 C267.7 282.3 271.2 285.3 279.0 290.0 C286.8 294.7 302.3 304.2 307.0 307.0 L307.0 289.0 C310.5 295.3 327.8 316.3 328.0 327.0 C328.2 337.7 311.3 348.7 308.0 353.0 L307.0 339.0 C302.3 337.2 289.5 330.2 279.0 328.0 C268.5 325.8 253.8 325.7 244.0 326.0 C234.2 326.3 227.8 328.0 220.0 330.0 C212.2 332.0 200.8 336.7 197.0 338.0 Z" fill="#00953e"/>
<path d="M338 327 L359 303 L359 313 L372 313 L372 343 L360 343 L360 367 Z" fill="#00953e"/>
<path d="M329 355 L305 367 L320 373 L308 423 L292 463 L280 480 L280 503 L306 515 L312 470 L330 420 L340 381 L356 386 Z" fill="#00953e"/>
<g clip-path="url(#cgreen)"><rect x="200" y="120" width="200" height="420" fill="url(#gridg)"/></g>
</g>
<path d="M252 263 L255.5 272 M262 327 Q259 350 260 376" stroke="#222" stroke-width="0.9" fill="none"/>
<path d="M219.0 144.0 C229.7 147.5 272.3 161.5 283.0 165.0 L284.0 185.0 C283.8 188.3 283.7 198.3 283.0 205.0 C282.3 211.7 281.3 218.7 280.0 225.0 C278.7 231.3 276.8 238.3 275.0 243.0 C273.2 247.7 271.2 250.2 269.0 253.0 C266.8 255.8 264.8 258.3 262.0 260.0 C259.2 261.7 255.3 263.0 252.0 263.0 C248.7 263.0 244.8 262.0 242.0 260.0 C239.2 258.0 236.8 254.3 235.0 251.0 C233.2 247.7 231.7 241.8 231.0 240.0 L231.0 240.0 C230.0 233.3 226.5 210.8 225.0 200.0 C223.5 189.2 223.0 184.0 222.0 175.0 C221.0 166.0 219.5 150.8 219.0 146.0 Z" fill="#d8d8d8"/><g clip-path="url(#cp1)"><path d="M219.0 144.0 C229.7 147.5 272.3 161.5 283.0 165.0 L284.0 185.0 C283.8 188.3 283.7 198.3 283.0 205.0 C282.3 211.7 281.3 218.7 280.0 225.0 C278.7 231.3 276.8 238.3 275.0 243.0 C273.2 247.7 271.2 250.2 269.0 253.0 C266.8 255.8 264.8 258.3 262.0 260.0 C259.2 261.7 255.3 263.0 252.0 263.0 C248.7 263.0 244.8 262.0 242.0 260.0 C239.2 258.0 236.8 254.3 235.0 251.0 C233.2 247.7 231.7 241.8 231.0 240.0 L231.0 240.0 C230.0 233.3 226.5 210.8 225.0 200.0 C223.5 189.2 223.0 184.0 222.0 175.0 C221.0 166.0 219.5 150.8 219.0 146.0 Z" fill="none" stroke="#454545" stroke-width="8.5" filter="url(#blur2)"/><ellipse cx="210.1" cy="117.8" rx="3.1" ry="6.3" fill="url(#dimp)"/><ellipse cx="219.4" cy="120.1" rx="3.1" ry="6.3" fill="url(#dimp)"/><ellipse cx="228.7" cy="122.5" rx="3.1" ry="6.3" fill="url(#dimp)"/><ellipse cx="238.0" cy="124.8" rx="3.1" ry="6.3" fill="url(#dimp)"/><ellipse cx="247.3" cy="127.1" rx="3.1" ry="6.3" fill="url(#dimp)"/><ellipse cx="256.6" cy="129.4" rx="3.1" ry="6.3" fill="url(#dimp)"/><ellipse cx="265.9" cy="131.8" rx="3.1" ry="6.3" fill="url(#dimp)"/><ellipse cx="275.2" cy="134.1" rx="3.1" ry="6.3" fill="url(#dimp)"/><ellipse cx="284.5" cy="136.4" rx="3.1" ry="6.3" fill="url(#dimp)"/><ellipse cx="293.8" cy="138.8" rx="3.1" ry="6.3" fill="url(#dimp)"/><ellipse cx="210.1" cy="138.1" rx="3.1" ry="6.3" fill="url(#dimp)"/><ellipse cx="219.4" cy="140.4" rx="3.1" ry="6.3" fill="url(#dimp)"/><ellipse cx="228.7" cy="142.8" rx="3.1" ry="6.3" fill="url(#dimp)"/><ellipse cx="238.0" cy="145.1" rx="3.1" ry="6.3" fill="url(#dimp)"/><ellipse cx="247.3" cy="147.4" rx="3.1" ry="6.3" fill="url(#dimp)"/><ellipse cx="256.6" cy="149.8" rx="3.1" ry="6.3" fill="url(#dimp)"/><ellipse cx="265.9" cy="152.1" rx="3.1" ry="6.3" fill="url(#dimp)"/><ellipse cx="275.2" cy="154.4" rx="3.1" ry="6.3" fill="url(#dimp)"/><ellipse cx="284.5" cy="156.7" rx="3.1" ry="6.3" fill="url(#dimp)"/><ellipse cx="293.8" cy="159.0" rx="3.1" ry="6.3" fill="url(#dimp)"/><ellipse cx="210.1" cy="158.4" rx="3.1" ry="6.3" fill="url(#dimp)"/><ellipse cx="219.4" cy="160.8" rx="3.1" ry="6.3" fill="url(#dimp)"/><ellipse cx="228.7" cy="163.1" rx="3.1" ry="6.3" fill="url(#dimp)"/><ellipse cx="238.0" cy="165.4" rx="3.1" ry="6.3" fill="url(#dimp)"/><ellipse cx="247.3" cy="167.7" rx="3.1" ry="6.3" fill="url(#dimp)"/><ellipse cx="256.6" cy="170.1" rx="3.1" ry="6.3" fill="url(#dimp)"/><ellipse cx="265.9" cy="172.4" rx="3.1" ry="6.3" fill="url(#dimp)"/><ellipse cx="275.2" cy="174.7" rx="3.1" ry="6.3" fill="url(#dimp)"/><ellipse cx="284.5" cy="177.0" rx="3.1" ry="6.3" fill="url(#dimp)"/><ellipse cx="293.8" cy="179.3" rx="3.1" ry="6.3" fill="url(#dimp)"/><ellipse cx="210.1" cy="178.7" rx="3.1" ry="6.3" fill="url(#dimp)"/><ellipse cx="219.4" cy="181.0" rx="3.1" ry="6.3" fill="url(#dimp)"/><ellipse cx="228.7" cy="183.4" rx="3.1" ry="6.3" fill="url(#dimp)"/><ellipse cx="238.0" cy="185.7" rx="3.1" ry="6.3" fill="url(#dimp)"/><ellipse cx="247.3" cy="188.0" rx="3.1" ry="6.3" fill="url(#dimp)"/><ellipse cx="256.6" cy="190.3" rx="3.1" ry="6.3" fill="url(#dimp)"/><ellipse cx="265.9" cy="192.7" rx="3.1" ry="6.3" fill="url(#dimp)"/><ellipse cx="275.2" cy="195.0" rx="3.1" ry="6.3" fill="url(#dimp)"/><ellipse cx="284.5" cy="197.3" rx="3.1" ry="6.3" fill="url(#dimp)"/><ellipse cx="293.8" cy="199.6" rx="3.1" ry="6.3" fill="url(#dimp)"/><ellipse cx="210.1" cy="199.0" rx="3.1" ry="6.3" fill="url(#dimp)"/><ellipse cx="219.4" cy="201.3" rx="3.1" ry="6.3" fill="url(#dimp)"/><ellipse cx="228.7" cy="203.7" rx="3.1" ry="6.3" fill="url(#dimp)"/><ellipse cx="238.0" cy="206.0" rx="3.1" ry="6.3" fill="url(#dimp)"/><ellipse cx="247.3" cy="208.3" rx="3.1" ry="6.3" fill="url(#dimp)"/><ellipse cx="256.6" cy="210.7" rx="3.1" ry="6.3" fill="url(#dimp)"/><ellipse cx="265.9" cy="213.0" rx="3.1" ry="6.3" fill="url(#dimp)"/><ellipse cx="275.2" cy="215.3" rx="3.1" ry="6.3" fill="url(#dimp)"/><ellipse cx="284.5" cy="217.6" rx="3.1" ry="6.3" fill="url(#dimp)"/><ellipse cx="293.8" cy="219.9" rx="3.1" ry="6.3" fill="url(#dimp)"/><ellipse cx="210.1" cy="219.3" rx="3.1" ry="6.3" fill="url(#dimp)"/><ellipse cx="219.4" cy="221.7" rx="3.1" ry="6.3" fill="url(#dimp)"/><ellipse cx="228.7" cy="224.0" rx="3.1" ry="6.3" fill="url(#dimp)"/><ellipse cx="238.0" cy="226.3" rx="3.1" ry="6.3" fill="url(#dimp)"/><ellipse cx="247.3" cy="228.6" rx="3.1" ry="6.3" fill="url(#dimp)"/><ellipse cx="256.6" cy="231.0" rx="3.1" ry="6.3" fill="url(#dimp)"/><ellipse cx="265.9" cy="233.3" rx="3.1" ry="6.3" fill="url(#dimp)"/><ellipse cx="275.2" cy="235.6" rx="3.1" ry="6.3" fill="url(#dimp)"/><ellipse cx="284.5" cy="237.9" rx="3.1" ry="6.3" fill="url(#dimp)"/><ellipse cx="293.8" cy="240.2" rx="3.1" ry="6.3" fill="url(#dimp)"/><ellipse cx="210.1" cy="239.6" rx="3.1" ry="6.3" fill="url(#dimp)"/><ellipse cx="219.4" cy="241.9" rx="3.1" ry="6.3" fill="url(#dimp)"/><ellipse cx="228.7" cy="244.3" rx="3.1" ry="6.3" fill="url(#dimp)"/><ellipse cx="238.0" cy="246.6" rx="3.1" ry="6.3" fill="url(#dimp)"/><ellipse cx="247.3" cy="248.9" rx="3.1" ry="6.3" fill="url(#dimp)"/><ellipse cx="256.6" cy="251.2" rx="3.1" ry="6.3" fill="url(#dimp)"/><ellipse cx="265.9" cy="253.6" rx="3.1" ry="6.3" fill="url(#dimp)"/><ellipse cx="275.2" cy="255.9" rx="3.1" ry="6.3" fill="url(#dimp)"/><ellipse cx="284.5" cy="258.2" rx="3.1" ry="6.3" fill="url(#dimp)"/><ellipse cx="293.8" cy="260.6" rx="3.1" ry="6.3" fill="url(#dimp)"/><ellipse cx="210.1" cy="259.9" rx="3.1" ry="6.3" fill="url(#dimp)"/><ellipse cx="219.4" cy="262.2" rx="3.1" ry="6.3" fill="url(#dimp)"/><ellipse cx="228.7" cy="264.6" rx="3.1" ry="6.3" fill="url(#dimp)"/><ellipse cx="238.0" cy="266.9" rx="3.1" ry="6.3" fill="url(#dimp)"/><ellipse cx="247.3" cy="269.2" rx="3.1" ry="6.3" fill="url(#dimp)"/><ellipse cx="256.6" cy="271.5" rx="3.1" ry="6.3" fill="url(#dimp)"/><ellipse cx="265.9" cy="273.9" rx="3.1" ry="6.3" fill="url(#dimp)"/><ellipse cx="275.2" cy="276.2" rx="3.1" ry="6.3" fill="url(#dimp)"/><ellipse cx="284.5" cy="278.5" rx="3.1" ry="6.3" fill="url(#dimp)"/><ellipse cx="293.8" cy="280.8" rx="3.1" ry="6.3" fill="url(#dimp)"/><ellipse cx="210.1" cy="280.2" rx="3.1" ry="6.3" fill="url(#dimp)"/><ellipse cx="219.4" cy="282.6" rx="3.1" ry="6.3" fill="url(#dimp)"/><ellipse cx="228.7" cy="284.9" rx="3.1" ry="6.3" fill="url(#dimp)"/><ellipse cx="238.0" cy="287.2" rx="3.1" ry="6.3" fill="url(#dimp)"/><ellipse cx="247.3" cy="289.5" rx="3.1" ry="6.3" fill="url(#dimp)"/><ellipse cx="256.6" cy="291.8" rx="3.1" ry="6.3" fill="url(#dimp)"/><ellipse cx="265.9" cy="294.2" rx="3.1" ry="6.3" fill="url(#dimp)"/><ellipse cx="275.2" cy="296.5" rx="3.1" ry="6.3" fill="url(#dimp)"/><ellipse cx="284.5" cy="298.8" rx="3.1" ry="6.3" fill="url(#dimp)"/><ellipse cx="293.8" cy="301.1" rx="3.1" ry="6.3" fill="url(#dimp)"/></g><path d="M219.0 144.0 C229.7 147.5 272.3 161.5 283.0 165.0 L284.0 185.0 C283.8 188.3 283.7 198.3 283.0 205.0 C282.3 211.7 281.3 218.7 280.0 225.0 C278.7 231.3 276.8 238.3 275.0 243.0 C273.2 247.7 271.2 250.2 269.0 253.0 C266.8 255.8 264.8 258.3 262.0 260.0 C259.2 261.7 255.3 263.0 252.0 263.0 C248.7 263.0 244.8 262.0 242.0 260.0 C239.2 258.0 236.8 254.3 235.0 251.0 C233.2 247.7 231.7 241.8 231.0 240.0 L231.0 240.0 C230.0 233.3 226.5 210.8 225.0 200.0 C223.5 189.2 223.0 184.0 222.0 175.0 C221.0 166.0 219.5 150.8 219.0 146.0 Z" fill="none" stroke="#333" stroke-width="0.9"/>
<path d="M316.7 176.0 C326.6 179.3 366.1 192.7 376.0 196.0 L375.0 220.0 C374.5 225.0 373.2 240.8 372.0 250.0 C370.8 259.2 369.2 268.5 368.0 275.0 C366.8 281.5 365.5 286.7 365.0 289.0 L363.0 293.0 C361.3 293.5 357.1 296.7 352.7 296.0 C348.3 295.3 341.4 292.4 336.7 288.7 C332.0 285.0 327.7 279.3 324.7 274.0 C321.7 268.7 320.0 264.0 318.7 256.7 C317.4 249.4 317.3 239.4 317.0 230.0 C316.7 220.6 316.8 205.0 316.7 200.0 Z" fill="#d8d8d8"/><g clip-path="url(#cp2)"><path d="M316.7 176.0 C326.6 179.3 366.1 192.7 376.0 196.0 L375.0 220.0 C374.5 225.0 373.2 240.8 372.0 250.0 C370.8 259.2 369.2 268.5 368.0 275.0 C366.8 281.5 365.5 286.7 365.0 289.0 L363.0 293.0 C361.3 293.5 357.1 296.7 352.7 296.0 C348.3 295.3 341.4 292.4 336.7 288.7 C332.0 285.0 327.7 279.3 324.7 274.0 C321.7 268.7 320.0 264.0 318.7 256.7 C317.4 249.4 317.3 239.4 317.0 230.0 C316.7 220.6 316.8 205.0 316.7 200.0 Z" fill="none" stroke="#454545" stroke-width="8.5" filter="url(#blur2)"/><ellipse cx="306.9" cy="141.2" rx="3.1" ry="6.3" fill="url(#dimp)"/><ellipse cx="316.3" cy="143.8" rx="3.1" ry="6.3" fill="url(#dimp)"/><ellipse cx="325.6" cy="146.3" rx="3.1" ry="6.3" fill="url(#dimp)"/><ellipse cx="335.0" cy="148.8" rx="3.1" ry="6.3" fill="url(#dimp)"/><ellipse cx="344.4" cy="151.3" rx="3.1" ry="6.3" fill="url(#dimp)"/><ellipse cx="353.7" cy="153.8" rx="3.1" ry="6.3" fill="url(#dimp)"/><ellipse cx="363.1" cy="156.4" rx="3.1" ry="6.3" fill="url(#dimp)"/><ellipse cx="372.4" cy="158.9" rx="3.1" ry="6.3" fill="url(#dimp)"/><ellipse cx="381.8" cy="161.4" rx="3.1" ry="6.3" fill="url(#dimp)"/><ellipse cx="391.1" cy="163.9" rx="3.1" ry="6.3" fill="url(#dimp)"/><ellipse cx="306.9" cy="161.0" rx="3.1" ry="6.3" fill="url(#dimp)"/><ellipse cx="316.3" cy="163.6" rx="3.1" ry="6.3" fill="url(#dimp)"/><ellipse cx="325.6" cy="166.1" rx="3.1" ry="6.3" fill="url(#dimp)"/><ellipse cx="335.0" cy="168.6" rx="3.1" ry="6.3" fill="url(#dimp)"/><ellipse cx="344.4" cy="171.1" rx="3.1" ry="6.3" fill="url(#dimp)"/><ellipse cx="353.7" cy="173.6" rx="3.1" ry="6.3" fill="url(#dimp)"/><ellipse cx="363.1" cy="176.2" rx="3.1" ry="6.3" fill="url(#dimp)"/><ellipse cx="372.4" cy="178.7" rx="3.1" ry="6.3" fill="url(#dimp)"/><ellipse cx="381.8" cy="181.2" rx="3.1" ry="6.3" fill="url(#dimp)"/><ellipse cx="391.1" cy="183.7" rx="3.1" ry="6.3" fill="url(#dimp)"/><ellipse cx="306.9" cy="180.8" rx="3.1" ry="6.3" fill="url(#dimp)"/><ellipse cx="316.3" cy="183.4" rx="3.1" ry="6.3" fill="url(#dimp)"/><ellipse cx="325.6" cy="185.9" rx="3.1" ry="6.3" fill="url(#dimp)"/><ellipse cx="335.0" cy="188.4" rx="3.1" ry="6.3" fill="url(#dimp)"/><ellipse cx="344.4" cy="190.9" rx="3.1" ry="6.3" fill="url(#dimp)"/><ellipse cx="353.7" cy="193.4" rx="3.1" ry="6.3" fill="url(#dimp)"/><ellipse cx="363.1" cy="196.0" rx="3.1" ry="6.3" fill="url(#dimp)"/><ellipse cx="372.4" cy="198.5" rx="3.1" ry="6.3" fill="url(#dimp)"/><ellipse cx="381.8" cy="201.0" rx="3.1" ry="6.3" fill="url(#dimp)"/><ellipse cx="391.1" cy="203.5" rx="3.1" ry="6.3" fill="url(#dimp)"/><ellipse cx="306.9" cy="200.6" rx="3.1" ry="6.3" fill="url(#dimp)"/><ellipse cx="316.3" cy="203.2" rx="3.1" ry="6.3" fill="url(#dimp)"/><ellipse cx="325.6" cy="205.7" rx="3.1" ry="6.3" fill="url(#dimp)"/><ellipse cx="335.0" cy="208.2" rx="3.1" ry="6.3" fill="url(#dimp)"/><ellipse cx="344.4" cy="210.7" rx="3.1" ry="6.3" fill="url(#dimp)"/><ellipse cx="353.7" cy="213.2" rx="3.1" ry="6.3" fill="url(#dimp)"/><ellipse cx="363.1" cy="215.8" rx="3.1" ry="6.3" fill="url(#dimp)"/><ellipse cx="372.4" cy="218.3" rx="3.1" ry="6.3" fill="url(#dimp)"/><ellipse cx="381.8" cy="220.8" rx="3.1" ry="6.3" fill="url(#dimp)"/><ellipse cx="391.1" cy="223.3" rx="3.1" ry="6.3" fill="url(#dimp)"/><ellipse cx="306.9" cy="220.4" rx="3.1" ry="6.3" fill="url(#dimp)"/><ellipse cx="316.3" cy="223.0" rx="3.1" ry="6.3" fill="url(#dimp)"/><ellipse cx="325.6" cy="225.5" rx="3.1" ry="6.3" fill="url(#dimp)"/><ellipse cx="335.0" cy="228.0" rx="3.1" ry="6.3" fill="url(#dimp)"/><ellipse cx="344.4" cy="230.5" rx="3.1" ry="6.3" fill="url(#dimp)"/><ellipse cx="353.7" cy="233.0" rx="3.1" ry="6.3" fill="url(#dimp)"/><ellipse cx="363.1" cy="235.6" rx="3.1" ry="6.3" fill="url(#dimp)"/><ellipse cx="372.4" cy="238.1" rx="3.1" ry="6.3" fill="url(#dimp)"/><ellipse cx="381.8" cy="240.6" rx="3.1" ry="6.3" fill="url(#dimp)"/><ellipse cx="391.1" cy="243.1" rx="3.1" ry="6.3" fill="url(#dimp)"/><ellipse cx="306.9" cy="240.2" rx="3.1" ry="6.3" fill="url(#dimp)"/><ellipse cx="316.3" cy="242.8" rx="3.1" ry="6.3" fill="url(#dimp)"/><ellipse cx="325.6" cy="245.3" rx="3.1" ry="6.3" fill="url(#dimp)"/><ellipse cx="335.0" cy="247.8" rx="3.1" ry="6.3" fill="url(#dimp)"/><ellipse cx="344.4" cy="250.3" rx="3.1" ry="6.3" fill="url(#dimp)"/><ellipse cx="353.7" cy="252.8" rx="3.1" ry="6.3" fill="url(#dimp)"/><ellipse cx="363.1" cy="255.4" rx="3.1" ry="6.3" fill="url(#dimp)"/><ellipse cx="372.4" cy="257.9" rx="3.1" ry="6.3" fill="url(#dimp)"/><ellipse cx="381.8" cy="260.4" rx="3.1" ry="6.3" fill="url(#dimp)"/><ellipse cx="391.1" cy="262.9" rx="3.1" ry="6.3" fill="url(#dimp)"/><ellipse cx="306.9" cy="260.0" rx="3.1" ry="6.3" fill="url(#dimp)"/><ellipse cx="316.3" cy="262.6" rx="3.1" ry="6.3" fill="url(#dimp)"/><ellipse cx="325.6" cy="265.1" rx="3.1" ry="6.3" fill="url(#dimp)"/><ellipse cx="335.0" cy="267.6" rx="3.1" ry="6.3" fill="url(#dimp)"/><ellipse cx="344.4" cy="270.1" rx="3.1" ry="6.3" fill="url(#dimp)"/><ellipse cx="353.7" cy="272.6" rx="3.1" ry="6.3" fill="url(#dimp)"/><ellipse cx="363.1" cy="275.2" rx="3.1" ry="6.3" fill="url(#dimp)"/><ellipse cx="372.4" cy="277.7" rx="3.1" ry="6.3" fill="url(#dimp)"/><ellipse cx="381.8" cy="280.2" rx="3.1" ry="6.3" fill="url(#dimp)"/><ellipse cx="391.1" cy="282.7" rx="3.1" ry="6.3" fill="url(#dimp)"/><ellipse cx="306.9" cy="279.8" rx="3.1" ry="6.3" fill="url(#dimp)"/><ellipse cx="316.3" cy="282.4" rx="3.1" ry="6.3" fill="url(#dimp)"/><ellipse cx="325.6" cy="284.9" rx="3.1" ry="6.3" fill="url(#dimp)"/><ellipse cx="335.0" cy="287.4" rx="3.1" ry="6.3" fill="url(#dimp)"/><ellipse cx="344.4" cy="289.9" rx="3.1" ry="6.3" fill="url(#dimp)"/><ellipse cx="353.7" cy="292.4" rx="3.1" ry="6.3" fill="url(#dimp)"/><ellipse cx="363.1" cy="295.0" rx="3.1" ry="6.3" fill="url(#dimp)"/><ellipse cx="372.4" cy="297.5" rx="3.1" ry="6.3" fill="url(#dimp)"/><ellipse cx="381.8" cy="300.0" rx="3.1" ry="6.3" fill="url(#dimp)"/><ellipse cx="391.1" cy="302.5" rx="3.1" ry="6.3" fill="url(#dimp)"/><ellipse cx="306.9" cy="299.6" rx="3.1" ry="6.3" fill="url(#dimp)"/><ellipse cx="316.3" cy="302.2" rx="3.1" ry="6.3" fill="url(#dimp)"/><ellipse cx="325.6" cy="304.7" rx="3.1" ry="6.3" fill="url(#dimp)"/><ellipse cx="335.0" cy="307.2" rx="3.1" ry="6.3" fill="url(#dimp)"/><ellipse cx="344.4" cy="309.7" rx="3.1" ry="6.3" fill="url(#dimp)"/><ellipse cx="353.7" cy="312.2" rx="3.1" ry="6.3" fill="url(#dimp)"/><ellipse cx="363.1" cy="314.8" rx="3.1" ry="6.3" fill="url(#dimp)"/><ellipse cx="372.4" cy="317.3" rx="3.1" ry="6.3" fill="url(#dimp)"/><ellipse cx="381.8" cy="319.8" rx="3.1" ry="6.3" fill="url(#dimp)"/><ellipse cx="391.1" cy="322.3" rx="3.1" ry="6.3" fill="url(#dimp)"/><ellipse cx="306.9" cy="319.4" rx="3.1" ry="6.3" fill="url(#dimp)"/><ellipse cx="316.3" cy="322.0" rx="3.1" ry="6.3" fill="url(#dimp)"/><ellipse cx="325.6" cy="324.5" rx="3.1" ry="6.3" fill="url(#dimp)"/><ellipse cx="335.0" cy="327.0" rx="3.1" ry="6.3" fill="url(#dimp)"/><ellipse cx="344.4" cy="329.5" rx="3.1" ry="6.3" fill="url(#dimp)"/><ellipse cx="353.7" cy="332.0" rx="3.1" ry="6.3" fill="url(#dimp)"/><ellipse cx="363.1" cy="334.6" rx="3.1" ry="6.3" fill="url(#dimp)"/><ellipse cx="372.4" cy="337.1" rx="3.1" ry="6.3" fill="url(#dimp)"/><ellipse cx="381.8" cy="339.6" rx="3.1" ry="6.3" fill="url(#dimp)"/><ellipse cx="391.1" cy="342.1" rx="3.1" ry="6.3" fill="url(#dimp)"/></g><path d="M316.7 176.0 C326.6 179.3 366.1 192.7 376.0 196.0 L375.0 220.0 C374.5 225.0 373.2 240.8 372.0 250.0 C370.8 259.2 369.2 268.5 368.0 275.0 C366.8 281.5 365.5 286.7 365.0 289.0 L363.0 293.0 C361.3 293.5 357.1 296.7 352.7 296.0 C348.3 295.3 341.4 292.4 336.7 288.7 C332.0 285.0 327.7 279.3 324.7 274.0 C321.7 268.7 320.0 264.0 318.7 256.7 C317.4 249.4 317.3 239.4 317.0 230.0 C316.7 220.6 316.8 205.0 316.7 200.0 Z" fill="none" stroke="#333" stroke-width="0.9"/>
<path d="M234.5 381.0 C234.9 380.6 230.9 379.1 237.0 378.5 C243.1 377.9 265.0 377.2 271.0 377.5 C277.0 377.8 272.7 379.6 273.0 380.0 L273.0 380.0 C273.0 382.3 273.8 386.5 273.0 394.0 C272.2 401.5 269.5 414.3 268.0 425.0 C266.5 435.7 262.0 449.2 264.0 458.0 C266.0 466.8 277.3 474.7 280.0 478.0 L280.0 503.0 C274.5 501.0 257.8 494.7 247.0 491.0 C236.2 487.3 220.3 482.7 215.0 481.0 L215.0 481.0 L231.5 470.0 L231.5 400.0 L234.5 396.0 Z" fill="#d8d8d8"/><g clip-path="url(#cp3)"><path d="M234.5 381.0 C234.9 380.6 230.9 379.1 237.0 378.5 C243.1 377.9 265.0 377.2 271.0 377.5 C277.0 377.8 272.7 379.6 273.0 380.0 L273.0 380.0 C273.0 382.3 273.8 386.5 273.0 394.0 C272.2 401.5 269.5 414.3 268.0 425.0 C266.5 435.7 262.0 449.2 264.0 458.0 C266.0 466.8 277.3 474.7 280.0 478.0 L280.0 503.0 C274.5 501.0 257.8 494.7 247.0 491.0 C236.2 487.3 220.3 482.7 215.0 481.0 L215.0 481.0 L231.5 470.0 L231.5 400.0 L234.5 396.0 Z" fill="none" stroke="#454545" stroke-width="8.5" filter="url(#blur2)"/><ellipse cx="188.0" cy="266.6" rx="2.9" ry="6.0" fill="url(#dimp)"/><ellipse cx="197.0" cy="269.8" rx="2.9" ry="6.0" fill="url(#dimp)"/><ellipse cx="206.0" cy="273.0" rx="2.9" ry="6.0" fill="url(#dimp)"/><ellipse cx="215.0" cy="276.3" rx="2.9" ry="6.0" fill="url(#dimp)"/><ellipse cx="224.0" cy="279.5" rx="2.9" ry="6.0" fill="url(#dimp)"/><ellipse cx="233.0" cy="282.8" rx="2.9" ry="6.0" fill="url(#dimp)"/><ellipse cx="242.0" cy="286.0" rx="2.9" ry="6.0" fill="url(#dimp)"/><ellipse cx="251.0" cy="289.2" rx="2.9" ry="6.0" fill="url(#dimp)"/><ellipse cx="260.0" cy="292.5" rx="2.9" ry="6.0" fill="url(#dimp)"/><ellipse cx="269.0" cy="295.7" rx="2.9" ry="6.0" fill="url(#dimp)"/><ellipse cx="278.0" cy="299.0" rx="2.9" ry="6.0" fill="url(#dimp)"/><ellipse cx="287.0" cy="302.2" rx="2.9" ry="6.0" fill="url(#dimp)"/><ellipse cx="296.0" cy="305.4" rx="2.9" ry="6.0" fill="url(#dimp)"/><ellipse cx="305.0" cy="308.7" rx="2.9" ry="6.0" fill="url(#dimp)"/><ellipse cx="314.0" cy="311.9" rx="2.9" ry="6.0" fill="url(#dimp)"/><ellipse cx="188.0" cy="285.6" rx="2.9" ry="6.0" fill="url(#dimp)"/><ellipse cx="197.0" cy="288.8" rx="2.9" ry="6.0" fill="url(#dimp)"/><ellipse cx="206.0" cy="292.0" rx="2.9" ry="6.0" fill="url(#dimp)"/><ellipse cx="215.0" cy="295.3" rx="2.9" ry="6.0" fill="url(#dimp)"/><ellipse cx="224.0" cy="298.5" rx="2.9" ry="6.0" fill="url(#dimp)"/><ellipse cx="233.0" cy="301.8" rx="2.9" ry="6.0" fill="url(#dimp)"/><ellipse cx="242.0" cy="305.0" rx="2.9" ry="6.0" fill="url(#dimp)"/><ellipse cx="251.0" cy="308.2" rx="2.9" ry="6.0" fill="url(#dimp)"/><ellipse cx="260.0" cy="311.5" rx="2.9" ry="6.0" fill="url(#dimp)"/><ellipse cx="269.0" cy="314.7" rx="2.9" ry="6.0" fill="url(#dimp)"/><ellipse cx="278.0" cy="318.0" rx="2.9" ry="6.0" fill="url(#dimp)"/><ellipse cx="287.0" cy="321.2" rx="2.9" ry="6.0" fill="url(#dimp)"/><ellipse cx="296.0" cy="324.4" rx="2.9" ry="6.0" fill="url(#dimp)"/><ellipse cx="305.0" cy="327.7" rx="2.9" ry="6.0" fill="url(#dimp)"/><ellipse cx="314.0" cy="330.9" rx="2.9" ry="6.0" fill="url(#dimp)"/><ellipse cx="188.0" cy="304.6" rx="2.9" ry="6.0" fill="url(#dimp)"/><ellipse cx="197.0" cy="307.8" rx="2.9" ry="6.0" fill="url(#dimp)"/><ellipse cx="206.0" cy="311.0" rx="2.9" ry="6.0" fill="url(#dimp)"/><ellipse cx="215.0" cy="314.3" rx="2.9" ry="6.0" fill="url(#dimp)"/><ellipse cx="224.0" cy="317.5" rx="2.9" ry="6.0" fill="url(#dimp)"/><ellipse cx="233.0" cy="320.8" rx="2.9" ry="6.0" fill="url(#dimp)"/><ellipse cx="242.0" cy="324.0" rx="2.9" ry="6.0" fill="url(#dimp)"/><ellipse cx="251.0" cy="327.2" rx="2.9" ry="6.0" fill="url(#dimp)"/><ellipse cx="260.0" cy="330.5" rx="2.9" ry="6.0" fill="url(#dimp)"/><ellipse cx="269.0" cy="333.7" rx="2.9" ry="6.0" fill="url(#dimp)"/><ellipse cx="278.0" cy="337.0" rx="2.9" ry="6.0" fill="url(#dimp)"/><ellipse cx="287.0" cy="340.2" rx="2.9" ry="6.0" fill="url(#dimp)"/><ellipse cx="296.0" cy="343.4" rx="2.9" ry="6.0" fill="url(#dimp)"/><ellipse cx="305.0" cy="346.7" rx="2.9" ry="6.0" fill="url(#dimp)"/><ellipse cx="314.0" cy="349.9" rx="2.9" ry="6.0" fill="url(#dimp)"/><ellipse cx="188.0" cy="323.6" rx="2.9" ry="6.0" fill="url(#dimp)"/><ellipse cx="197.0" cy="326.8" rx="2.9" ry="6.0" fill="url(#dimp)"/><ellipse cx="206.0" cy="330.0" rx="2.9" ry="6.0" fill="url(#dimp)"/><ellipse cx="215.0" cy="333.3" rx="2.9" ry="6.0" fill="url(#dimp)"/><ellipse cx="224.0" cy="336.5" rx="2.9" ry="6.0" fill="url(#dimp)"/><ellipse cx="233.0" cy="339.8" rx="2.9" ry="6.0" fill="url(#dimp)"/><ellipse cx="242.0" cy="343.0" rx="2.9" ry="6.0" fill="url(#dimp)"/><ellipse cx="251.0" cy="346.2" rx="2.9" ry="6.0" fill="url(#dimp)"/><ellipse cx="260.0" cy="349.5" rx="2.9" ry="6.0" fill="url(#dimp)"/><ellipse cx="269.0" cy="352.7" rx="2.9" ry="6.0" fill="url(#dimp)"/><ellipse cx="278.0" cy="356.0" rx="2.9" ry="6.0" fill="url(#dimp)"/><ellipse cx="287.0" cy="359.2" rx="2.9" ry="6.0" fill="url(#dimp)"/><ellipse cx="296.0" cy="362.4" rx="2.9" ry="6.0" fill="url(#dimp)"/><ellipse cx="305.0" cy="365.7" rx="2.9" ry="6.0" fill="url(#dimp)"/><ellipse cx="314.0" cy="368.9" rx="2.9" ry="6.0" fill="url(#dimp)"/><ellipse cx="188.0" cy="342.6" rx="2.9" ry="6.0" fill="url(#dimp)"/><ellipse cx="197.0" cy="345.8" rx="2.9" ry="6.0" fill="url(#dimp)"/><ellipse cx="206.0" cy="349.0" rx="2.9" ry="6.0" fill="url(#dimp)"/><ellipse cx="215.0" cy="352.3" rx="2.9" ry="6.0" fill="url(#dimp)"/><ellipse cx="224.0" cy="355.5" rx="2.9" ry="6.0" fill="url(#dimp)"/><ellipse cx="233.0" cy="358.8" rx="2.9" ry="6.0" fill="url(#dimp)"/><ellipse cx="242.0" cy="362.0" rx="2.9" ry="6.0" fill="url(#dimp)"/><ellipse cx="251.0" cy="365.2" rx="2.9" ry="6.0" fill="url(#dimp)"/><ellipse cx="260.0" cy="368.5" rx="2.9" ry="6.0" fill="url(#dimp)"/><ellipse cx="269.0" cy="371.7" rx="2.9" ry="6.0" fill="url(#dimp)"/><ellipse cx="278.0" cy="375.0" rx="2.9" ry="6.0" fill="url(#dimp)"/><ellipse cx="287.0" cy="378.2" rx="2.9" ry="6.0" fill="url(#dimp)"/><ellipse cx="296.0" cy="381.4" rx="2.9" ry="6.0" fill="url(#dimp)"/><ellipse cx="305.0" cy="384.7" rx="2.9" ry="6.0" fill="url(#dimp)"/><ellipse cx="314.0" cy="387.9" rx="2.9" ry="6.0" fill="url(#dimp)"/><ellipse cx="188.0" cy="361.6" rx="2.9" ry="6.0" fill="url(#dimp)"/><ellipse cx="197.0" cy="364.8" rx="2.9" ry="6.0" fill="url(#dimp)"/><ellipse cx="206.0" cy="368.0" rx="2.9" ry="6.0" fill="url(#dimp)"/><ellipse cx="215.0" cy="371.3" rx="2.9" ry="6.0" fill="url(#dimp)"/><ellipse cx="224.0" cy="374.5" rx="2.9" ry="6.0" fill="url(#dimp)"/><ellipse cx="233.0" cy="377.8" rx="2.9" ry="6.0" fill="url(#dimp)"/><ellipse cx="242.0" cy="381.0" rx="2.9" ry="6.0" fill="url(#dimp)"/><ellipse cx="251.0" cy="384.2" rx="2.9" ry="6.0" fill="url(#dimp)"/><ellipse cx="260.0" cy="387.5" rx="2.9" ry="6.0" fill="url(#dimp)"/><ellipse cx="269.0" cy="390.7" rx="2.9" ry="6.0" fill="url(#dimp)"/><ellipse cx="278.0" cy="394.0" rx="2.9" ry="6.0" fill="url(#dimp)"/><ellipse cx="287.0" cy="397.2" rx="2.9" ry="6.0" fill="url(#dimp)"/><ellipse cx="296.0" cy="400.4" rx="2.9" ry="6.0" fill="url(#dimp)"/><ellipse cx="305.0" cy="403.7" rx="2.9" ry="6.0" fill="url(#dimp)"/><ellipse cx="314.0" cy="406.9" rx="2.9" ry="6.0" fill="url(#dimp)"/><ellipse cx="188.0" cy="380.6" rx="2.9" ry="6.0" fill="url(#dimp)"/><ellipse cx="197.0" cy="383.8" rx="2.9" ry="6.0" fill="url(#dimp)"/><ellipse cx="206.0" cy="387.0" rx="2.9" ry="6.0" fill="url(#dimp)"/><ellipse cx="215.0" cy="390.3" rx="2.9" ry="6.0" fill="url(#dimp)"/><ellipse cx="224.0" cy="393.5" rx="2.9" ry="6.0" fill="url(#dimp)"/><ellipse cx="233.0" cy="396.8" rx="2.9" ry="6.0" fill="url(#dimp)"/><ellipse cx="242.0" cy="400.0" rx="2.9" ry="6.0" fill="url(#dimp)"/><ellipse cx="251.0" cy="403.2" rx="2.9" ry="6.0" fill="url(#dimp)"/><ellipse cx="260.0" cy="406.5" rx="2.9" ry="6.0" fill="url(#dimp)"/><ellipse cx="269.0" cy="409.7" rx="2.9" ry="6.0" fill="url(#dimp)"/><ellipse cx="278.0" cy="413.0" rx="2.9" ry="6.0" fill="url(#dimp)"/><ellipse cx="287.0" cy="416.2" rx="2.9" ry="6.0" fill="url(#dimp)"/><ellipse cx="296.0" cy="419.4" rx="2.9" ry="6.0" fill="url(#dimp)"/><ellipse cx="305.0" cy="422.7" rx="2.9" ry="6.0" fill="url(#dimp)"/><ellipse cx="314.0" cy="425.9" rx="2.9" ry="6.0" fill="url(#dimp)"/><ellipse cx="188.0" cy="399.6" rx="2.9" ry="6.0" fill="url(#dimp)"/><ellipse cx="197.0" cy="402.8" rx="2.9" ry="6.0" fill="url(#dimp)"/><ellipse cx="206.0" cy="406.0" rx="2.9" ry="6.0" fill="url(#dimp)"/><ellipse cx="215.0" cy="409.3" rx="2.9" ry="6.0" fill="url(#dimp)"/><ellipse cx="224.0" cy="412.5" rx="2.9" ry="6.0" fill="url(#dimp)"/><ellipse cx="233.0" cy="415.8" rx="2.9" ry="6.0" fill="url(#dimp)"/><ellipse cx="242.0" cy="419.0" rx="2.9" ry="6.0" fill="url(#dimp)"/><ellipse cx="251.0" cy="422.2" rx="2.9" ry="6.0" fill="url(#dimp)"/><ellipse cx="260.0" cy="425.5" rx="2.9" ry="6.0" fill="url(#dimp)"/><ellipse cx="269.0" cy="428.7" rx="2.9" ry="6.0" fill="url(#dimp)"/><ellipse cx="278.0" cy="432.0" rx="2.9" ry="6.0" fill="url(#dimp)"/><ellipse cx="287.0" cy="435.2" rx="2.9" ry="6.0" fill="url(#dimp)"/><ellipse cx="296.0" cy="438.4" rx="2.9" ry="6.0" fill="url(#dimp)"/><ellipse cx="305.0" cy="441.7" rx="2.9" ry="6.0" fill="url(#dimp)"/><ellipse cx="314.0" cy="444.9" rx="2.9" ry="6.0" fill="url(#dimp)"/><ellipse cx="188.0" cy="418.6" rx="2.9" ry="6.0" fill="url(#dimp)"/><ellipse cx="197.0" cy="421.8" rx="2.9" ry="6.0" fill="url(#dimp)"/><ellipse cx="206.0" cy="425.0" rx="2.9" ry="6.0" fill="url(#dimp)"/><ellipse cx="215.0" cy="428.3" rx="2.9" ry="6.0" fill="url(#dimp)"/><ellipse cx="224.0" cy="431.5" rx="2.9" ry="6.0" fill="url(#dimp)"/><ellipse cx="233.0" cy="434.8" rx="2.9" ry="6.0" fill="url(#dimp)"/><ellipse cx="242.0" cy="438.0" rx="2.9" ry="6.0" fill="url(#dimp)"/><ellipse cx="251.0" cy="441.2" rx="2.9" ry="6.0" fill="url(#dimp)"/><ellipse cx="260.0" cy="444.5" rx="2.9" ry="6.0" fill="url(#dimp)"/><ellipse cx="269.0" cy="447.7" rx="2.9" ry="6.0" fill="url(#dimp)"/><ellipse cx="278.0" cy="451.0" rx="2.9" ry="6.0" fill="url(#dimp)"/><ellipse cx="287.0" cy="454.2" rx="2.9" ry="6.0" fill="url(#dimp)"/><ellipse cx="296.0" cy="457.4" rx="2.9" ry="6.0" fill="url(#dimp)"/><ellipse cx="305.0" cy="460.7" rx="2.9" ry="6.0" fill="url(#dimp)"/><ellipse cx="314.0" cy="463.9" rx="2.9" ry="6.0" fill="url(#dimp)"/><ellipse cx="188.0" cy="437.6" rx="2.9" ry="6.0" fill="url(#dimp)"/><ellipse cx="197.0" cy="440.8" rx="2.9" ry="6.0" fill="url(#dimp)"/><ellipse cx="206.0" cy="444.0" rx="2.9" ry="6.0" fill="url(#dimp)"/><ellipse cx="215.0" cy="447.3" rx="2.9" ry="6.0" fill="url(#dimp)"/><ellipse cx="224.0" cy="450.5" rx="2.9" ry="6.0" fill="url(#dimp)"/><ellipse cx="233.0" cy="453.8" rx="2.9" ry="6.0" fill="url(#dimp)"/><ellipse cx="242.0" cy="457.0" rx="2.9" ry="6.0" fill="url(#dimp)"/><ellipse cx="251.0" cy="460.2" rx="2.9" ry="6.0" fill="url(#dimp)"/><ellipse cx="260.0" cy="463.5" rx="2.9" ry="6.0" fill="url(#dimp)"/><ellipse cx="269.0" cy="466.7" rx="2.9" ry="6.0" fill="url(#dimp)"/><ellipse cx="278.0" cy="470.0" rx="2.9" ry="6.0" fill="url(#dimp)"/><ellipse cx="287.0" cy="473.2" rx="2.9" ry="6.0" fill="url(#dimp)"/><ellipse cx="296.0" cy="476.4" rx="2.9" ry="6.0" fill="url(#dimp)"/><ellipse cx="305.0" cy="479.7" rx="2.9" ry="6.0" fill="url(#dimp)"/><ellipse cx="314.0" cy="482.9" rx="2.9" ry="6.0" fill="url(#dimp)"/><ellipse cx="188.0" cy="456.6" rx="2.9" ry="6.0" fill="url(#dimp)"/><ellipse cx="197.0" cy="459.8" rx="2.9" ry="6.0" fill="url(#dimp)"/><ellipse cx="206.0" cy="463.0" rx="2.9" ry="6.0" fill="url(#dimp)"/><ellipse cx="215.0" cy="466.3" rx="2.9" ry="6.0" fill="url(#dimp)"/><ellipse cx="224.0" cy="469.5" rx="2.9" ry="6.0" fill="url(#dimp)"/><ellipse cx="233.0" cy="472.8" rx="2.9" ry="6.0" fill="url(#dimp)"/><ellipse cx="242.0" cy="476.0" rx="2.9" ry="6.0" fill="url(#dimp)"/><ellipse cx="251.0" cy="479.2" rx="2.9" ry="6.0" fill="url(#dimp)"/><ellipse cx="260.0" cy="482.5" rx="2.9" ry="6.0" fill="url(#dimp)"/><ellipse cx="269.0" cy="485.7" rx="2.9" ry="6.0" fill="url(#dimp)"/><ellipse cx="278.0" cy="489.0" rx="2.9" ry="6.0" fill="url(#dimp)"/><ellipse cx="287.0" cy="492.2" rx="2.9" ry="6.0" fill="url(#dimp)"/><ellipse cx="296.0" cy="495.4" rx="2.9" ry="6.0" fill="url(#dimp)"/><ellipse cx="305.0" cy="498.7" rx="2.9" ry="6.0" fill="url(#dimp)"/><ellipse cx="314.0" cy="501.9" rx="2.9" ry="6.0" fill="url(#dimp)"/><ellipse cx="188.0" cy="475.6" rx="2.9" ry="6.0" fill="url(#dimp)"/><ellipse cx="197.0" cy="478.8" rx="2.9" ry="6.0" fill="url(#dimp)"/><ellipse cx="206.0" cy="482.0" rx="2.9" ry="6.0" fill="url(#dimp)"/><ellipse cx="215.0" cy="485.3" rx="2.9" ry="6.0" fill="url(#dimp)"/><ellipse cx="224.0" cy="488.5" rx="2.9" ry="6.0" fill="url(#dimp)"/><ellipse cx="233.0" cy="491.8" rx="2.9" ry="6.0" fill="url(#dimp)"/><ellipse cx="242.0" cy="495.0" rx="2.9" ry="6.0" fill="url(#dimp)"/><ellipse cx="251.0" cy="498.2" rx="2.9" ry="6.0" fill="url(#dimp)"/><ellipse cx="260.0" cy="501.5" rx="2.9" ry="6.0" fill="url(#dimp)"/><ellipse cx="269.0" cy="504.7" rx="2.9" ry="6.0" fill="url(#dimp)"/><ellipse cx="278.0" cy="508.0" rx="2.9" ry="6.0" fill="url(#dimp)"/><ellipse cx="287.0" cy="511.2" rx="2.9" ry="6.0" fill="url(#dimp)"/><ellipse cx="296.0" cy="514.4" rx="2.9" ry="6.0" fill="url(#dimp)"/><ellipse cx="305.0" cy="517.7" rx="2.9" ry="6.0" fill="url(#dimp)"/><ellipse cx="314.0" cy="520.9" rx="2.9" ry="6.0" fill="url(#dimp)"/><ellipse cx="188.0" cy="494.6" rx="2.9" ry="6.0" fill="url(#dimp)"/><ellipse cx="197.0" cy="497.8" rx="2.9" ry="6.0" fill="url(#dimp)"/><ellipse cx="206.0" cy="501.0" rx="2.9" ry="6.0" fill="url(#dimp)"/><ellipse cx="215.0" cy="504.3" rx="2.9" ry="6.0" fill="url(#dimp)"/><ellipse cx="224.0" cy="507.5" rx="2.9" ry="6.0" fill="url(#dimp)"/><ellipse cx="233.0" cy="510.8" rx="2.9" ry="6.0" fill="url(#dimp)"/><ellipse cx="242.0" cy="514.0" rx="2.9" ry="6.0" fill="url(#dimp)"/><ellipse cx="251.0" cy="517.2" rx="2.9" ry="6.0" fill="url(#dimp)"/><ellipse cx="260.0" cy="520.5" rx="2.9" ry="6.0" fill="url(#dimp)"/><ellipse cx="269.0" cy="523.7" rx="2.9" ry="6.0" fill="url(#dimp)"/><ellipse cx="278.0" cy="527.0" rx="2.9" ry="6.0" fill="url(#dimp)"/><ellipse cx="287.0" cy="530.2" rx="2.9" ry="6.0" fill="url(#dimp)"/><ellipse cx="296.0" cy="533.4" rx="2.9" ry="6.0" fill="url(#dimp)"/><ellipse cx="305.0" cy="536.7" rx="2.9" ry="6.0" fill="url(#dimp)"/><ellipse cx="314.0" cy="539.9" rx="2.9" ry="6.0" fill="url(#dimp)"/><ellipse cx="188.0" cy="513.6" rx="2.9" ry="6.0" fill="url(#dimp)"/><ellipse cx="197.0" cy="516.8" rx="2.9" ry="6.0" fill="url(#dimp)"/><ellipse cx="206.0" cy="520.0" rx="2.9" ry="6.0" fill="url(#dimp)"/><ellipse cx="215.0" cy="523.3" rx="2.9" ry="6.0" fill="url(#dimp)"/><ellipse cx="224.0" cy="526.5" rx="2.9" ry="6.0" fill="url(#dimp)"/><ellipse cx="233.0" cy="529.8" rx="2.9" ry="6.0" fill="url(#dimp)"/><ellipse cx="242.0" cy="533.0" rx="2.9" ry="6.0" fill="url(#dimp)"/><ellipse cx="251.0" cy="536.2" rx="2.9" ry="6.0" fill="url(#dimp)"/><ellipse cx="260.0" cy="539.5" rx="2.9" ry="6.0" fill="url(#dimp)"/><ellipse cx="269.0" cy="542.7" rx="2.9" ry="6.0" fill="url(#dimp)"/><ellipse cx="278.0" cy="546.0" rx="2.9" ry="6.0" fill="url(#dimp)"/><ellipse cx="287.0" cy="549.2" rx="2.9" ry="6.0" fill="url(#dimp)"/><ellipse cx="296.0" cy="552.4" rx="2.9" ry="6.0" fill="url(#dimp)"/><ellipse cx="305.0" cy="555.7" rx="2.9" ry="6.0" fill="url(#dimp)"/><ellipse cx="314.0" cy="558.9" rx="2.9" ry="6.0" fill="url(#dimp)"/><ellipse cx="188.0" cy="532.6" rx="2.9" ry="6.0" fill="url(#dimp)"/><ellipse cx="197.0" cy="535.8" rx="2.9" ry="6.0" fill="url(#dimp)"/><ellipse cx="206.0" cy="539.0" rx="2.9" ry="6.0" fill="url(#dimp)"/><ellipse cx="215.0" cy="542.3" rx="2.9" ry="6.0" fill="url(#dimp)"/><ellipse cx="224.0" cy="545.5" rx="2.9" ry="6.0" fill="url(#dimp)"/><ellipse cx="233.0" cy="548.8" rx="2.9" ry="6.0" fill="url(#dimp)"/><ellipse cx="242.0" cy="552.0" rx="2.9" ry="6.0" fill="url(#dimp)"/><ellipse cx="251.0" cy="555.2" rx="2.9" ry="6.0" fill="url(#dimp)"/><ellipse cx="260.0" cy="558.5" rx="2.9" ry="6.0" fill="url(#dimp)"/><ellipse cx="269.0" cy="561.7" rx="2.9" ry="6.0" fill="url(#dimp)"/><ellipse cx="278.0" cy="565.0" rx="2.9" ry="6.0" fill="url(#dimp)"/><ellipse cx="287.0" cy="568.2" rx="2.9" ry="6.0" fill="url(#dimp)"/><ellipse cx="296.0" cy="571.4" rx="2.9" ry="6.0" fill="url(#dimp)"/><ellipse cx="305.0" cy="574.7" rx="2.9" ry="6.0" fill="url(#dimp)"/><ellipse cx="314.0" cy="577.9" rx="2.9" ry="6.0" fill="url(#dimp)"/></g><path d="M234.5 381.0 C234.9 380.6 230.9 379.1 237.0 378.5 C243.1 377.9 265.0 377.2 271.0 377.5 C277.0 377.8 272.7 379.6 273.0 380.0 L273.0 380.0 C273.0 382.3 273.8 386.5 273.0 394.0 C272.2 401.5 269.5 414.3 268.0 425.0 C266.5 435.7 262.0 449.2 264.0 458.0 C266.0 466.8 277.3 474.7 280.0 478.0 L280.0 503.0 C274.5 501.0 257.8 494.7 247.0 491.0 C236.2 487.3 220.3 482.7 215.0 481.0 L215.0 481.0 L231.5 470.0 L231.5 400.0 L234.5 396.0 Z" fill="none" stroke="#333" stroke-width="0.9"/>
<path d="M305.0 503.0 C305.7 498.3 307.7 483.8 309.0 475.0 C310.3 466.2 311.5 459.2 313.0 450.0 C314.5 440.8 316.3 428.8 318.0 420.0 C319.7 411.2 322.2 400.8 323.0 397.0 L324.0 394.0 C325.5 393.5 328.7 390.0 333.0 391.0 C337.3 392.0 345.0 396.3 350.0 400.0 C355.0 403.7 360.2 409.2 363.0 413.0 C365.8 416.8 366.3 421.3 367.0 423.0 L372.0 440.0 C373.0 442.5 378.0 445.0 378.0 455.0 C378.0 465.0 372.0 488.5 372.0 500.0 C372.0 511.5 377.0 520.0 378.0 524.0 L327.0 523.0 C323.8 521.8 311.2 517.2 308.0 516.0 Z" fill="#d8d8d8"/><g clip-path="url(#cp4)"><path d="M305.0 503.0 C305.7 498.3 307.7 483.8 309.0 475.0 C310.3 466.2 311.5 459.2 313.0 450.0 C314.5 440.8 316.3 428.8 318.0 420.0 C319.7 411.2 322.2 400.8 323.0 397.0 L324.0 394.0 C325.5 393.5 328.7 390.0 333.0 391.0 C337.3 392.0 345.0 396.3 350.0 400.0 C355.0 403.7 360.2 409.2 363.0 413.0 C365.8 416.8 366.3 421.3 367.0 423.0 L372.0 440.0 C373.0 442.5 378.0 445.0 378.0 455.0 C378.0 465.0 372.0 488.5 372.0 500.0 C372.0 511.5 377.0 520.0 378.0 524.0 L327.0 523.0 C323.8 521.8 311.2 517.2 308.0 516.0 Z" fill="none" stroke="#454545" stroke-width="8.5" filter="url(#blur2)"/><ellipse cx="294.2" cy="309.1" rx="2.8" ry="5.8" fill="url(#dimp)"/><ellipse cx="303.4" cy="309.8" rx="2.8" ry="5.8" fill="url(#dimp)"/><ellipse cx="312.6" cy="310.5" rx="2.8" ry="5.8" fill="url(#dimp)"/><ellipse cx="321.8" cy="311.3" rx="2.8" ry="5.8" fill="url(#dimp)"/><ellipse cx="331.0" cy="312.0" rx="2.8" ry="5.8" fill="url(#dimp)"/><ellipse cx="340.2" cy="312.7" rx="2.8" ry="5.8" fill="url(#dimp)"/><ellipse cx="349.4" cy="313.5" rx="2.8" ry="5.8" fill="url(#dimp)"/><ellipse cx="358.6" cy="314.2" rx="2.8" ry="5.8" fill="url(#dimp)"/><ellipse cx="367.8" cy="314.9" rx="2.8" ry="5.8" fill="url(#dimp)"/><ellipse cx="377.0" cy="315.7" rx="2.8" ry="5.8" fill="url(#dimp)"/><ellipse cx="386.2" cy="316.4" rx="2.8" ry="5.8" fill="url(#dimp)"/><ellipse cx="395.4" cy="317.2" rx="2.8" ry="5.8" fill="url(#dimp)"/><ellipse cx="404.6" cy="317.9" rx="2.8" ry="5.8" fill="url(#dimp)"/><ellipse cx="413.8" cy="318.6" rx="2.8" ry="5.8" fill="url(#dimp)"/><ellipse cx="294.2" cy="326.6" rx="2.8" ry="5.8" fill="url(#dimp)"/><ellipse cx="303.4" cy="327.3" rx="2.8" ry="5.8" fill="url(#dimp)"/><ellipse cx="312.6" cy="328.0" rx="2.8" ry="5.8" fill="url(#dimp)"/><ellipse cx="321.8" cy="328.8" rx="2.8" ry="5.8" fill="url(#dimp)"/><ellipse cx="331.0" cy="329.5" rx="2.8" ry="5.8" fill="url(#dimp)"/><ellipse cx="340.2" cy="330.2" rx="2.8" ry="5.8" fill="url(#dimp)"/><ellipse cx="349.4" cy="331.0" rx="2.8" ry="5.8" fill="url(#dimp)"/><ellipse cx="358.6" cy="331.7" rx="2.8" ry="5.8" fill="url(#dimp)"/><ellipse cx="367.8" cy="332.4" rx="2.8" ry="5.8" fill="url(#dimp)"/><ellipse cx="377.0" cy="333.2" rx="2.8" ry="5.8" fill="url(#dimp)"/><ellipse cx="386.2" cy="333.9" rx="2.8" ry="5.8" fill="url(#dimp)"/><ellipse cx="395.4" cy="334.7" rx="2.8" ry="5.8" fill="url(#dimp)"/><ellipse cx="404.6" cy="335.4" rx="2.8" ry="5.8" fill="url(#dimp)"/><ellipse cx="413.8" cy="336.1" rx="2.8" ry="5.8" fill="url(#dimp)"/><ellipse cx="294.2" cy="344.1" rx="2.8" ry="5.8" fill="url(#dimp)"/><ellipse cx="303.4" cy="344.8" rx="2.8" ry="5.8" fill="url(#dimp)"/><ellipse cx="312.6" cy="345.5" rx="2.8" ry="5.8" fill="url(#dimp)"/><ellipse cx="321.8" cy="346.3" rx="2.8" ry="5.8" fill="url(#dimp)"/><ellipse cx="331.0" cy="347.0" rx="2.8" ry="5.8" fill="url(#dimp)"/><ellipse cx="340.2" cy="347.7" rx="2.8" ry="5.8" fill="url(#dimp)"/><ellipse cx="349.4" cy="348.5" rx="2.8" ry="5.8" fill="url(#dimp)"/><ellipse cx="358.6" cy="349.2" rx="2.8" ry="5.8" fill="url(#dimp)"/><ellipse cx="367.8" cy="349.9" rx="2.8" ry="5.8" fill="url(#dimp)"/><ellipse cx="377.0" cy="350.7" rx="2.8" ry="5.8" fill="url(#dimp)"/><ellipse cx="386.2" cy="351.4" rx="2.8" ry="5.8" fill="url(#dimp)"/><ellipse cx="395.4" cy="352.2" rx="2.8" ry="5.8" fill="url(#dimp)"/><ellipse cx="404.6" cy="352.9" rx="2.8" ry="5.8" fill="url(#dimp)"/><ellipse cx="413.8" cy="353.6" rx="2.8" ry="5.8" fill="url(#dimp)"/><ellipse cx="294.2" cy="361.6" rx="2.8" ry="5.8" fill="url(#dimp)"/><ellipse cx="303.4" cy="362.3" rx="2.8" ry="5.8" fill="url(#dimp)"/><ellipse cx="312.6" cy="363.0" rx="2.8" ry="5.8" fill="url(#dimp)"/><ellipse cx="321.8" cy="363.8" rx="2.8" ry="5.8" fill="url(#dimp)"/><ellipse cx="331.0" cy="364.5" rx="2.8" ry="5.8" fill="url(#dimp)"/><ellipse cx="340.2" cy="365.2" rx="2.8" ry="5.8" fill="url(#dimp)"/><ellipse cx="349.4" cy="366.0" rx="2.8" ry="5.8" fill="url(#dimp)"/><ellipse cx="358.6" cy="366.7" rx="2.8" ry="5.8" fill="url(#dimp)"/><ellipse cx="367.8" cy="367.4" rx="2.8" ry="5.8" fill="url(#dimp)"/><ellipse cx="377.0" cy="368.2" rx="2.8" ry="5.8" fill="url(#dimp)"/><ellipse cx="386.2" cy="368.9" rx="2.8" ry="5.8" fill="url(#dimp)"/><ellipse cx="395.4" cy="369.7" rx="2.8" ry="5.8" fill="url(#dimp)"/><ellipse cx="404.6" cy="370.4" rx="2.8" ry="5.8" fill="url(#dimp)"/><ellipse cx="413.8" cy="371.1" rx="2.8" ry="5.8" fill="url(#dimp)"/><ellipse cx="294.2" cy="379.1" rx="2.8" ry="5.8" fill="url(#dimp)"/><ellipse cx="303.4" cy="379.8" rx="2.8" ry="5.8" fill="url(#dimp)"/><ellipse cx="312.6" cy="380.5" rx="2.8" ry="5.8" fill="url(#dimp)"/><ellipse cx="321.8" cy="381.3" rx="2.8" ry="5.8" fill="url(#dimp)"/><ellipse cx="331.0" cy="382.0" rx="2.8" ry="5.8" fill="url(#dimp)"/><ellipse cx="340.2" cy="382.7" rx="2.8" ry="5.8" fill="url(#dimp)"/><ellipse cx="349.4" cy="383.5" rx="2.8" ry="5.8" fill="url(#dimp)"/><ellipse cx="358.6" cy="384.2" rx="2.8" ry="5.8" fill="url(#dimp)"/><ellipse cx="367.8" cy="384.9" rx="2.8" ry="5.8" fill="url(#dimp)"/><ellipse cx="377.0" cy="385.7" rx="2.8" ry="5.8" fill="url(#dimp)"/><ellipse cx="386.2" cy="386.4" rx="2.8" ry="5.8" fill="url(#dimp)"/><ellipse cx="395.4" cy="387.2" rx="2.8" ry="5.8" fill="url(#dimp)"/><ellipse cx="404.6" cy="387.9" rx="2.8" ry="5.8" fill="url(#dimp)"/><ellipse cx="413.8" cy="388.6" rx="2.8" ry="5.8" fill="url(#dimp)"/><ellipse cx="294.2" cy="396.6" rx="2.8" ry="5.8" fill="url(#dimp)"/><ellipse cx="303.4" cy="397.3" rx="2.8" ry="5.8" fill="url(#dimp)"/><ellipse cx="312.6" cy="398.0" rx="2.8" ry="5.8" fill="url(#dimp)"/><ellipse cx="321.8" cy="398.8" rx="2.8" ry="5.8" fill="url(#dimp)"/><ellipse cx="331.0" cy="399.5" rx="2.8" ry="5.8" fill="url(#dimp)"/><ellipse cx="340.2" cy="400.2" rx="2.8" ry="5.8" fill="url(#dimp)"/><ellipse cx="349.4" cy="401.0" rx="2.8" ry="5.8" fill="url(#dimp)"/><ellipse cx="358.6" cy="401.7" rx="2.8" ry="5.8" fill="url(#dimp)"/><ellipse cx="367.8" cy="402.4" rx="2.8" ry="5.8" fill="url(#dimp)"/><ellipse cx="377.0" cy="403.2" rx="2.8" ry="5.8" fill="url(#dimp)"/><ellipse cx="386.2" cy="403.9" rx="2.8" ry="5.8" fill="url(#dimp)"/><ellipse cx="395.4" cy="404.7" rx="2.8" ry="5.8" fill="url(#dimp)"/><ellipse cx="404.6" cy="405.4" rx="2.8" ry="5.8" fill="url(#dimp)"/><ellipse cx="413.8" cy="406.1" rx="2.8" ry="5.8" fill="url(#dimp)"/><ellipse cx="294.2" cy="414.1" rx="2.8" ry="5.8" fill="url(#dimp)"/><ellipse cx="303.4" cy="414.8" rx="2.8" ry="5.8" fill="url(#dimp)"/><ellipse cx="312.6" cy="415.5" rx="2.8" ry="5.8" fill="url(#dimp)"/><ellipse cx="321.8" cy="416.3" rx="2.8" ry="5.8" fill="url(#dimp)"/><ellipse cx="331.0" cy="417.0" rx="2.8" ry="5.8" fill="url(#dimp)"/><ellipse cx="340.2" cy="417.7" rx="2.8" ry="5.8" fill="url(#dimp)"/><ellipse cx="349.4" cy="418.5" rx="2.8" ry="5.8" fill="url(#dimp)"/><ellipse cx="358.6" cy="419.2" rx="2.8" ry="5.8" fill="url(#dimp)"/><ellipse cx="367.8" cy="419.9" rx="2.8" ry="5.8" fill="url(#dimp)"/><ellipse cx="377.0" cy="420.7" rx="2.8" ry="5.8" fill="url(#dimp)"/><ellipse cx="386.2" cy="421.4" rx="2.8" ry="5.8" fill="url(#dimp)"/><ellipse cx="395.4" cy="422.2" rx="2.8" ry="5.8" fill="url(#dimp)"/><ellipse cx="404.6" cy="422.9" rx="2.8" ry="5.8" fill="url(#dimp)"/><ellipse cx="413.8" cy="423.6" rx="2.8" ry="5.8" fill="url(#dimp)"/><ellipse cx="294.2" cy="431.6" rx="2.8" ry="5.8" fill="url(#dimp)"/><ellipse cx="303.4" cy="432.3" rx="2.8" ry="5.8" fill="url(#dimp)"/><ellipse cx="312.6" cy="433.0" rx="2.8" ry="5.8" fill="url(#dimp)"/><ellipse cx="321.8" cy="433.8" rx="2.8" ry="5.8" fill="url(#dimp)"/><ellipse cx="331.0" cy="434.5" rx="2.8" ry="5.8" fill="url(#dimp)"/><ellipse cx="340.2" cy="435.2" rx="2.8" ry="5.8" fill="url(#dimp)"/><ellipse cx="349.4" cy="436.0" rx="2.8" ry="5.8" fill="url(#dimp)"/><ellipse cx="358.6" cy="436.7" rx="2.8" ry="5.8" fill="url(#dimp)"/><ellipse cx="367.8" cy="437.4" rx="2.8" ry="5.8" fill="url(#dimp)"/><ellipse cx="377.0" cy="438.2" rx="2.8" ry="5.8" fill="url(#dimp)"/><ellipse cx="386.2" cy="438.9" rx="2.8" ry="5.8" fill="url(#dimp)"/><ellipse cx="395.4" cy="439.7" rx="2.8" ry="5.8" fill="url(#dimp)"/><ellipse cx="404.6" cy="440.4" rx="2.8" ry="5.8" fill="url(#dimp)"/><ellipse cx="413.8" cy="441.1" rx="2.8" ry="5.8" fill="url(#dimp)"/><ellipse cx="294.2" cy="449.1" rx="2.8" ry="5.8" fill="url(#dimp)"/><ellipse cx="303.4" cy="449.8" rx="2.8" ry="5.8" fill="url(#dimp)"/><ellipse cx="312.6" cy="450.5" rx="2.8" ry="5.8" fill="url(#dimp)"/><ellipse cx="321.8" cy="451.3" rx="2.8" ry="5.8" fill="url(#dimp)"/><ellipse cx="331.0" cy="452.0" rx="2.8" ry="5.8" fill="url(#dimp)"/><ellipse cx="340.2" cy="452.7" rx="2.8" ry="5.8" fill="url(#dimp)"/><ellipse cx="349.4" cy="453.5" rx="2.8" ry="5.8" fill="url(#dimp)"/><ellipse cx="358.6" cy="454.2" rx="2.8" ry="5.8" fill="url(#dimp)"/><ellipse cx="367.8" cy="454.9" rx="2.8" ry="5.8" fill="url(#dimp)"/><ellipse cx="377.0" cy="455.7" rx="2.8" ry="5.8" fill="url(#dimp)"/><ellipse cx="386.2" cy="456.4" rx="2.8" ry="5.8" fill="url(#dimp)"/><ellipse cx="395.4" cy="457.2" rx="2.8" ry="5.8" fill="url(#dimp)"/><ellipse cx="404.6" cy="457.9" rx="2.8" ry="5.8" fill="url(#dimp)"/><ellipse cx="413.8" cy="458.6" rx="2.8" ry="5.8" fill="url(#dimp)"/><ellipse cx="294.2" cy="466.6" rx="2.8" ry="5.8" fill="url(#dimp)"/><ellipse cx="303.4" cy="467.3" rx="2.8" ry="5.8" fill="url(#dimp)"/><ellipse cx="312.6" cy="468.0" rx="2.8" ry="5.8" fill="url(#dimp)"/><ellipse cx="321.8" cy="468.8" rx="2.8" ry="5.8" fill="url(#dimp)"/><ellipse cx="331.0" cy="469.5" rx="2.8" ry="5.8" fill="url(#dimp)"/><ellipse cx="340.2" cy="470.2" rx="2.8" ry="5.8" fill="url(#dimp)"/><ellipse cx="349.4" cy="471.0" rx="2.8" ry="5.8" fill="url(#dimp)"/><ellipse cx="358.6" cy="471.7" rx="2.8" ry="5.8" fill="url(#dimp)"/><ellipse cx="367.8" cy="472.4" rx="2.8" ry="5.8" fill="url(#dimp)"/><ellipse cx="377.0" cy="473.2" rx="2.8" ry="5.8" fill="url(#dimp)"/><ellipse cx="386.2" cy="473.9" rx="2.8" ry="5.8" fill="url(#dimp)"/><ellipse cx="395.4" cy="474.7" rx="2.8" ry="5.8" fill="url(#dimp)"/><ellipse cx="404.6" cy="475.4" rx="2.8" ry="5.8" fill="url(#dimp)"/><ellipse cx="413.8" cy="476.1" rx="2.8" ry="5.8" fill="url(#dimp)"/><ellipse cx="294.2" cy="484.1" rx="2.8" ry="5.8" fill="url(#dimp)"/><ellipse cx="303.4" cy="484.8" rx="2.8" ry="5.8" fill="url(#dimp)"/><ellipse cx="312.6" cy="485.5" rx="2.8" ry="5.8" fill="url(#dimp)"/><ellipse cx="321.8" cy="486.3" rx="2.8" ry="5.8" fill="url(#dimp)"/><ellipse cx="331.0" cy="487.0" rx="2.8" ry="5.8" fill="url(#dimp)"/><ellipse cx="340.2" cy="487.7" rx="2.8" ry="5.8" fill="url(#dimp)"/><ellipse cx="349.4" cy="488.5" rx="2.8" ry="5.8" fill="url(#dimp)"/><ellipse cx="358.6" cy="489.2" rx="2.8" ry="5.8" fill="url(#dimp)"/><ellipse cx="367.8" cy="489.9" rx="2.8" ry="5.8" fill="url(#dimp)"/><ellipse cx="377.0" cy="490.7" rx="2.8" ry="5.8" fill="url(#dimp)"/><ellipse cx="386.2" cy="491.4" rx="2.8" ry="5.8" fill="url(#dimp)"/><ellipse cx="395.4" cy="492.2" rx="2.8" ry="5.8" fill="url(#dimp)"/><ellipse cx="404.6" cy="492.9" rx="2.8" ry="5.8" fill="url(#dimp)"/><ellipse cx="413.8" cy="493.6" rx="2.8" ry="5.8" fill="url(#dimp)"/><ellipse cx="294.2" cy="501.6" rx="2.8" ry="5.8" fill="url(#dimp)"/><ellipse cx="303.4" cy="502.3" rx="2.8" ry="5.8" fill="url(#dimp)"/><ellipse cx="312.6" cy="503.0" rx="2.8" ry="5.8" fill="url(#dimp)"/><ellipse cx="321.8" cy="503.8" rx="2.8" ry="5.8" fill="url(#dimp)"/><ellipse cx="331.0" cy="504.5" rx="2.8" ry="5.8" fill="url(#dimp)"/><ellipse cx="340.2" cy="505.2" rx="2.8" ry="5.8" fill="url(#dimp)"/><ellipse cx="349.4" cy="506.0" rx="2.8" ry="5.8" fill="url(#dimp)"/><ellipse cx="358.6" cy="506.7" rx="2.8" ry="5.8" fill="url(#dimp)"/><ellipse cx="367.8" cy="507.4" rx="2.8" ry="5.8" fill="url(#dimp)"/><ellipse cx="377.0" cy="508.2" rx="2.8" ry="5.8" fill="url(#dimp)"/><ellipse cx="386.2" cy="508.9" rx="2.8" ry="5.8" fill="url(#dimp)"/><ellipse cx="395.4" cy="509.7" rx="2.8" ry="5.8" fill="url(#dimp)"/><ellipse cx="404.6" cy="510.4" rx="2.8" ry="5.8" fill="url(#dimp)"/><ellipse cx="413.8" cy="511.1" rx="2.8" ry="5.8" fill="url(#dimp)"/><ellipse cx="294.2" cy="519.1" rx="2.8" ry="5.8" fill="url(#dimp)"/><ellipse cx="303.4" cy="519.8" rx="2.8" ry="5.8" fill="url(#dimp)"/><ellipse cx="312.6" cy="520.5" rx="2.8" ry="5.8" fill="url(#dimp)"/><ellipse cx="321.8" cy="521.3" rx="2.8" ry="5.8" fill="url(#dimp)"/><ellipse cx="331.0" cy="522.0" rx="2.8" ry="5.8" fill="url(#dimp)"/><ellipse cx="340.2" cy="522.7" rx="2.8" ry="5.8" fill="url(#dimp)"/><ellipse cx="349.4" cy="523.5" rx="2.8" ry="5.8" fill="url(#dimp)"/><ellipse cx="358.6" cy="524.2" rx="2.8" ry="5.8" fill="url(#dimp)"/><ellipse cx="367.8" cy="524.9" rx="2.8" ry="5.8" fill="url(#dimp)"/><ellipse cx="377.0" cy="525.7" rx="2.8" ry="5.8" fill="url(#dimp)"/><ellipse cx="386.2" cy="526.4" rx="2.8" ry="5.8" fill="url(#dimp)"/><ellipse cx="395.4" cy="527.2" rx="2.8" ry="5.8" fill="url(#dimp)"/><ellipse cx="404.6" cy="527.9" rx="2.8" ry="5.8" fill="url(#dimp)"/><ellipse cx="413.8" cy="528.6" rx="2.8" ry="5.8" fill="url(#dimp)"/><ellipse cx="294.2" cy="536.6" rx="2.8" ry="5.8" fill="url(#dimp)"/><ellipse cx="303.4" cy="537.3" rx="2.8" ry="5.8" fill="url(#dimp)"/><ellipse cx="312.6" cy="538.0" rx="2.8" ry="5.8" fill="url(#dimp)"/><ellipse cx="321.8" cy="538.8" rx="2.8" ry="5.8" fill="url(#dimp)"/><ellipse cx="331.0" cy="539.5" rx="2.8" ry="5.8" fill="url(#dimp)"/><ellipse cx="340.2" cy="540.2" rx="2.8" ry="5.8" fill="url(#dimp)"/><ellipse cx="349.4" cy="541.0" rx="2.8" ry="5.8" fill="url(#dimp)"/><ellipse cx="358.6" cy="541.7" rx="2.8" ry="5.8" fill="url(#dimp)"/><ellipse cx="367.8" cy="542.4" rx="2.8" ry="5.8" fill="url(#dimp)"/><ellipse cx="377.0" cy="543.2" rx="2.8" ry="5.8" fill="url(#dimp)"/><ellipse cx="386.2" cy="543.9" rx="2.8" ry="5.8" fill="url(#dimp)"/><ellipse cx="395.4" cy="544.7" rx="2.8" ry="5.8" fill="url(#dimp)"/><ellipse cx="404.6" cy="545.4" rx="2.8" ry="5.8" fill="url(#dimp)"/><ellipse cx="413.8" cy="546.1" rx="2.8" ry="5.8" fill="url(#dimp)"/><ellipse cx="294.2" cy="554.1" rx="2.8" ry="5.8" fill="url(#dimp)"/><ellipse cx="303.4" cy="554.8" rx="2.8" ry="5.8" fill="url(#dimp)"/><ellipse cx="312.6" cy="555.5" rx="2.8" ry="5.8" fill="url(#dimp)"/><ellipse cx="321.8" cy="556.3" rx="2.8" ry="5.8" fill="url(#dimp)"/><ellipse cx="331.0" cy="557.0" rx="2.8" ry="5.8" fill="url(#dimp)"/><ellipse cx="340.2" cy="557.7" rx="2.8" ry="5.8" fill="url(#dimp)"/><ellipse cx="349.4" cy="558.5" rx="2.8" ry="5.8" fill="url(#dimp)"/><ellipse cx="358.6" cy="559.2" rx="2.8" ry="5.8" fill="url(#dimp)"/><ellipse cx="367.8" cy="559.9" rx="2.8" ry="5.8" fill="url(#dimp)"/><ellipse cx="377.0" cy="560.7" rx="2.8" ry="5.8" fill="url(#dimp)"/><ellipse cx="386.2" cy="561.4" rx="2.8" ry="5.8" fill="url(#dimp)"/><ellipse cx="395.4" cy="562.2" rx="2.8" ry="5.8" fill="url(#dimp)"/><ellipse cx="404.6" cy="562.9" rx="2.8" ry="5.8" fill="url(#dimp)"/><ellipse cx="413.8" cy="563.6" rx="2.8" ry="5.8" fill="url(#dimp)"/></g><path d="M305.0 503.0 C305.7 498.3 307.7 483.8 309.0 475.0 C310.3 466.2 311.5 459.2 313.0 450.0 C314.5 440.8 316.3 428.8 318.0 420.0 C319.7 411.2 322.2 400.8 323.0 397.0 L324.0 394.0 C325.5 393.5 328.7 390.0 333.0 391.0 C337.3 392.0 345.0 396.3 350.0 400.0 C355.0 403.7 360.2 409.2 363.0 413.0 C365.8 416.8 366.3 421.3 367.0 423.0 L372.0 440.0 C373.0 442.5 378.0 445.0 378.0 455.0 C378.0 465.0 372.0 488.5 372.0 500.0 C372.0 511.5 377.0 520.0 378.0 524.0 L327.0 523.0 C323.8 521.8 311.2 517.2 308.0 516.0 Z" fill="none" stroke="#333" stroke-width="0.9"/>
<path d="M368.0 440.0 C368.7 440.0 370.2 437.7 372.0 440.0 C373.8 442.3 375.8 449.2 379.0 454.0 C382.2 458.8 387.8 463.7 391.0 469.0 C394.2 474.3 396.2 479.5 398.0 486.0 C399.8 492.5 400.9 504.3 401.5 508.0 L401.5 508.0 C400.3 509.4 397.2 514.2 394.5 516.5 C391.8 518.8 388.2 520.2 385.0 521.5 C381.8 522.8 376.7 523.6 375.0 524.0 L360.0 505.0 Z" fill="#a4a4a4"/><g clip-path="url(#cp5)"><path d="M368.0 440.0 C368.7 440.0 370.2 437.7 372.0 440.0 C373.8 442.3 375.8 449.2 379.0 454.0 C382.2 458.8 387.8 463.7 391.0 469.0 C394.2 474.3 396.2 479.5 398.0 486.0 C399.8 492.5 400.9 504.3 401.5 508.0 L401.5 508.0 C400.3 509.4 397.2 514.2 394.5 516.5 C391.8 518.8 388.2 520.2 385.0 521.5 C381.8 522.8 376.7 523.6 375.0 524.0 L360.0 505.0 Z" fill="none" stroke="#4a4a4a" stroke-width="7" filter="url(#blur2)"/><ellipse cx="349.4" cy="418.5" rx="2.6" ry="5.3" fill="url(#dimp)"/><ellipse cx="358.6" cy="419.2" rx="2.6" ry="5.3" fill="url(#dimp)"/><ellipse cx="367.8" cy="419.9" rx="2.6" ry="5.3" fill="url(#dimp)"/><ellipse cx="377.0" cy="420.7" rx="2.6" ry="5.3" fill="url(#dimp)"/><ellipse cx="386.2" cy="421.4" rx="2.6" ry="5.3" fill="url(#dimp)"/><ellipse cx="395.4" cy="422.2" rx="2.6" ry="5.3" fill="url(#dimp)"/><ellipse cx="404.6" cy="422.9" rx="2.6" ry="5.3" fill="url(#dimp)"/><ellipse cx="413.8" cy="423.6" rx="2.6" ry="5.3" fill="url(#dimp)"/><ellipse cx="349.4" cy="436.0" rx="2.6" ry="5.3" fill="url(#dimp)"/><ellipse cx="358.6" cy="436.7" rx="2.6" ry="5.3" fill="url(#dimp)"/><ellipse cx="367.8" cy="437.4" rx="2.6" ry="5.3" fill="url(#dimp)"/><ellipse cx="377.0" cy="438.2" rx="2.6" ry="5.3" fill="url(#dimp)"/><ellipse cx="386.2" cy="438.9" rx="2.6" ry="5.3" fill="url(#dimp)"/><ellipse cx="395.4" cy="439.7" rx="2.6" ry="5.3" fill="url(#dimp)"/><ellipse cx="404.6" cy="440.4" rx="2.6" ry="5.3" fill="url(#dimp)"/><ellipse cx="413.8" cy="441.1" rx="2.6" ry="5.3" fill="url(#dimp)"/><ellipse cx="349.4" cy="453.5" rx="2.6" ry="5.3" fill="url(#dimp)"/><ellipse cx="358.6" cy="454.2" rx="2.6" ry="5.3" fill="url(#dimp)"/><ellipse cx="367.8" cy="454.9" rx="2.6" ry="5.3" fill="url(#dimp)"/><ellipse cx="377.0" cy="455.7" rx="2.6" ry="5.3" fill="url(#dimp)"/><ellipse cx="386.2" cy="456.4" rx="2.6" ry="5.3" fill="url(#dimp)"/><ellipse cx="395.4" cy="457.2" rx="2.6" ry="5.3" fill="url(#dimp)"/><ellipse cx="404.6" cy="457.9" rx="2.6" ry="5.3" fill="url(#dimp)"/><ellipse cx="413.8" cy="458.6" rx="2.6" ry="5.3" fill="url(#dimp)"/><ellipse cx="349.4" cy="471.0" rx="2.6" ry="5.3" fill="url(#dimp)"/><ellipse cx="358.6" cy="471.7" rx="2.6" ry="5.3" fill="url(#dimp)"/><ellipse cx="367.8" cy="472.4" rx="2.6" ry="5.3" fill="url(#dimp)"/><ellipse cx="377.0" cy="473.2" rx="2.6" ry="5.3" fill="url(#dimp)"/><ellipse cx="386.2" cy="473.9" rx="2.6" ry="5.3" fill="url(#dimp)"/><ellipse cx="395.4" cy="474.7" rx="2.6" ry="5.3" fill="url(#dimp)"/><ellipse cx="404.6" cy="475.4" rx="2.6" ry="5.3" fill="url(#dimp)"/><ellipse cx="413.8" cy="476.1" rx="2.6" ry="5.3" fill="url(#dimp)"/><ellipse cx="349.4" cy="488.5" rx="2.6" ry="5.3" fill="url(#dimp)"/><ellipse cx="358.6" cy="489.2" rx="2.6" ry="5.3" fill="url(#dimp)"/><ellipse cx="367.8" cy="489.9" rx="2.6" ry="5.3" fill="url(#dimp)"/><ellipse cx="377.0" cy="490.7" rx="2.6" ry="5.3" fill="url(#dimp)"/><ellipse cx="386.2" cy="491.4" rx="2.6" ry="5.3" fill="url(#dimp)"/><ellipse cx="395.4" cy="492.2" rx="2.6" ry="5.3" fill="url(#dimp)"/><ellipse cx="404.6" cy="492.9" rx="2.6" ry="5.3" fill="url(#dimp)"/><ellipse cx="413.8" cy="493.6" rx="2.6" ry="5.3" fill="url(#dimp)"/><ellipse cx="349.4" cy="506.0" rx="2.6" ry="5.3" fill="url(#dimp)"/><ellipse cx="358.6" cy="506.7" rx="2.6" ry="5.3" fill="url(#dimp)"/><ellipse cx="367.8" cy="507.4" rx="2.6" ry="5.3" fill="url(#dimp)"/><ellipse cx="377.0" cy="508.2" rx="2.6" ry="5.3" fill="url(#dimp)"/><ellipse cx="386.2" cy="508.9" rx="2.6" ry="5.3" fill="url(#dimp)"/><ellipse cx="395.4" cy="509.7" rx="2.6" ry="5.3" fill="url(#dimp)"/><ellipse cx="404.6" cy="510.4" rx="2.6" ry="5.3" fill="url(#dimp)"/><ellipse cx="413.8" cy="511.1" rx="2.6" ry="5.3" fill="url(#dimp)"/><ellipse cx="349.4" cy="523.5" rx="2.6" ry="5.3" fill="url(#dimp)"/><ellipse cx="358.6" cy="524.2" rx="2.6" ry="5.3" fill="url(#dimp)"/><ellipse cx="367.8" cy="524.9" rx="2.6" ry="5.3" fill="url(#dimp)"/><ellipse cx="377.0" cy="525.7" rx="2.6" ry="5.3" fill="url(#dimp)"/><ellipse cx="386.2" cy="526.4" rx="2.6" ry="5.3" fill="url(#dimp)"/><ellipse cx="395.4" cy="527.2" rx="2.6" ry="5.3" fill="url(#dimp)"/><ellipse cx="404.6" cy="527.9" rx="2.6" ry="5.3" fill="url(#dimp)"/><ellipse cx="413.8" cy="528.6" rx="2.6" ry="5.3" fill="url(#dimp)"/><ellipse cx="349.4" cy="541.0" rx="2.6" ry="5.3" fill="url(#dimp)"/><ellipse cx="358.6" cy="541.7" rx="2.6" ry="5.3" fill="url(#dimp)"/><ellipse cx="367.8" cy="542.4" rx="2.6" ry="5.3" fill="url(#dimp)"/><ellipse cx="377.0" cy="543.2" rx="2.6" ry="5.3" fill="url(#dimp)"/><ellipse cx="386.2" cy="543.9" rx="2.6" ry="5.3" fill="url(#dimp)"/><ellipse cx="395.4" cy="544.7" rx="2.6" ry="5.3" fill="url(#dimp)"/><ellipse cx="404.6" cy="545.4" rx="2.6" ry="5.3" fill="url(#dimp)"/><ellipse cx="413.8" cy="546.1" rx="2.6" ry="5.3" fill="url(#dimp)"/></g><path d="M368.0 440.0 C368.7 440.0 370.2 437.7 372.0 440.0 C373.8 442.3 375.8 449.2 379.0 454.0 C382.2 458.8 387.8 463.7 391.0 469.0 C394.2 474.3 396.2 479.5 398.0 486.0 C399.8 492.5 400.9 504.3 401.5 508.0 L401.5 508.0 C400.3 509.4 397.2 514.2 394.5 516.5 C391.8 518.8 388.2 520.2 385.0 521.5 C381.8 522.8 376.7 523.6 375.0 524.0 L360.0 505.0 Z" fill="none" stroke="#333" stroke-width="0.9"/>
<path d="M217.8 146.0 C218.3 150.8 220.0 166.0 221.0 175.0 C222.0 184.0 222.6 189.2 224.0 200.0 C225.4 210.8 227.8 227.2 229.5 240.0 C231.2 252.8 233.2 264.5 234.5 277.0 C235.8 289.5 236.8 302.5 237.0 315.0 C237.2 327.5 236.5 341.2 236.0 352.0 C235.5 362.8 234.2 374.8 233.8 380.0 C233.4 385.2 233.6 382.5 233.5 383.0 L237.5 383.0 C237.7 382.2 237.6 383.2 238.5 378.0 C239.4 372.8 242.1 362.5 243.0 352.0 C243.9 341.5 244.4 327.5 244.0 315.0 C243.6 302.5 242.2 289.5 240.5 277.0 C238.8 264.5 236.2 252.8 234.0 240.0 C231.8 227.2 229.2 210.8 227.5 200.0 C225.8 189.2 225.1 184.0 224.0 175.0 C222.9 166.0 221.3 150.8 220.8 146.0 Z" fill="#c3131f"/>
<path d="M283 165 L317 177 L317 183.5 L283 171.5Z" fill="#c3131f"/>
<path d="M376.0 195.0 C375.6 199.2 374.4 210.8 373.5 220.0 C372.6 229.2 372.0 240.0 370.5 250.0 C369.0 260.0 365.5 275.0 364.5 280.0" fill="none" stroke="#c3131f" stroke-width="3.6"/>
<path d="M366.5 288.0 C366.0 293.3 364.2 308.5 363.5 320.0 C362.8 331.5 361.9 346.2 362.0 357.0 C362.1 367.8 362.9 375.5 364.0 385.0 C365.1 394.5 367.8 409.2 368.5 414.0 L376.0 414.0 C376.7 403.3 380.7 371.0 380.0 350.0 C379.3 329.0 373.3 298.3 372.0 288.0 Z" fill="#c3131f"/>
<path d="M215.0 482.0 C220.3 483.7 236.0 488.2 247.0 492.0 C258.0 495.8 270.8 500.8 281.0 505.0 C291.2 509.2 300.8 514.1 308.0 517.0 C315.2 519.9 319.5 521.1 324.0 522.3 C328.5 523.5 333.2 523.7 335.0 524.0" fill="none" stroke="#c3131f" stroke-width="3.2"/>
<path d="M233 474 L260 473 L280 475 L280 503 L247 491 L215 481 Z" fill="#000" fill-opacity="0.2"/>
<path d="M306 482 L340 497 L359 510 L375 523.5 L327 523 L308 516 L305 503 Z" fill="#000" fill-opacity="0.25"/>
<path d="M218 127.5 L377.5 179 L378 195 L219 142 Z" fill="#049fe3"/>
<path d="M219 142 L218 127.5 L377.5 179 L378 195" stroke="#111" stroke-width="1.7" stroke-dasharray="7.5 3.2" fill="none"/>
<path d="M219 142 L239 148.7 M261 156 L333 180 M351 186 L378 195" stroke="#111" stroke-width="1.7" stroke-dasharray="7.5 3.2" fill="none"/>
<path d="M233.5 131.0 C234.7 134.1 238.2 143.0 240.7 149.7 C243.2 156.4 246.4 164.3 248.7 171.0 C251.0 177.7 252.6 182.4 254.7 190.0 C256.8 197.6 259.1 207.8 261.3 216.7 C263.5 225.6 265.9 234.4 268.0 243.3 C270.1 252.2 272.5 262.2 274.0 270.0 C275.5 277.8 276.2 282.5 277.0 290.0 C277.8 297.5 278.7 306.7 279.0 315.0 C279.3 323.3 279.3 330.8 279.0 340.0 C278.7 349.2 278.2 360.8 277.0 370.0 C275.8 379.2 273.3 388.3 272.0 395.0 C270.7 401.7 270.3 403.3 269.0 410.0 C267.7 416.7 265.7 426.3 264.0 435.0 C262.3 443.7 259.8 457.5 259.0 462.0 L276.0 462.0 C277.0 457.5 280.0 443.7 282.0 435.0 C284.0 426.3 286.5 416.7 288.0 410.0 C289.5 403.3 289.8 401.7 291.0 395.0 C292.2 388.3 294.2 379.2 295.0 370.0 C295.8 360.8 295.8 349.2 296.0 340.0 C296.2 330.8 296.2 323.3 296.0 315.0 C295.8 306.7 295.2 297.5 294.5 290.0 C293.8 282.5 293.4 277.8 292.0 270.0 C290.6 262.2 288.0 252.2 286.0 243.3 C284.0 234.4 282.2 225.6 280.0 216.7 C277.8 207.8 275.0 197.6 272.7 190.0 C270.4 182.4 268.2 177.1 266.0 171.0 C263.8 164.9 261.4 159.2 259.3 153.7 C257.2 148.2 254.5 140.6 253.5 138.0 Z" fill="#049fe3"/>
<path d="M233.5 131.0 C234.7 134.1 238.2 143.0 240.7 149.7 C243.2 156.4 246.4 164.3 248.7 171.0 C251.0 177.7 252.6 182.4 254.7 190.0 C256.8 197.6 259.1 207.8 261.3 216.7 C263.5 225.6 265.9 234.4 268.0 243.3 C270.1 252.2 272.5 262.2 274.0 270.0 C275.5 277.8 276.2 282.5 277.0 290.0 C277.8 297.5 278.7 306.7 279.0 315.0 C279.3 323.3 279.3 330.8 279.0 340.0 C278.7 349.2 278.2 360.8 277.0 370.0 C275.8 379.2 273.3 388.3 272.0 395.0 C270.7 401.7 270.3 403.3 269.0 410.0 C267.7 416.7 265.7 426.3 264.0 435.0 C262.3 443.7 259.8 457.5 259.0 462.0" stroke="#111" stroke-width="1.7" stroke-dasharray="7.5 3.2" fill="none"/>
<path d="M253.5 138.0 C254.5 140.6 257.2 148.2 259.3 153.7 C261.4 159.2 263.8 164.9 266.0 171.0 C268.2 177.1 270.4 182.4 272.7 190.0 C275.0 197.6 277.8 207.8 280.0 216.7 C282.2 225.6 284.0 234.4 286.0 243.3 C288.0 252.2 290.6 262.2 292.0 270.0 C293.4 277.8 293.8 282.5 294.5 290.0 C295.2 297.5 295.8 306.7 296.0 315.0 C296.2 323.3 296.2 330.8 296.0 340.0 C295.8 349.2 295.8 360.8 295.0 370.0 C294.2 379.2 292.2 388.3 291.0 395.0 C289.8 401.7 289.5 403.3 288.0 410.0 C286.5 416.7 284.0 426.3 282.0 435.0 C280.0 443.7 277.0 457.5 276.0 462.0" stroke="#111" stroke-width="1.7" stroke-dasharray="7.5 3.2" fill="none"/>
<path d="M324.0 158.0 C325.4 161.3 329.8 171.0 332.5 178.0 C335.2 185.0 337.6 193.0 340.0 200.0 C342.4 207.0 344.7 212.5 347.0 220.0 C349.3 227.5 351.8 237.5 354.0 245.0 C356.2 252.5 358.0 258.3 360.0 265.0 C362.0 271.7 364.2 277.5 366.0 285.0 C367.8 292.5 369.2 300.8 370.5 310.0 C371.8 319.2 373.1 330.0 373.5 340.0 C373.9 350.0 373.3 360.8 372.8 370.0 C372.3 379.2 371.2 388.3 370.5 395.0 C369.8 401.7 369.6 402.5 368.5 410.0 C367.4 417.5 366.1 427.5 364.0 440.0 C361.9 452.5 357.3 477.5 356.0 485.0 L367.0 499.0 C368.3 495.0 372.3 484.8 375.0 475.0 C377.7 465.2 381.0 450.8 383.0 440.0 C385.0 429.2 386.2 416.7 387.0 410.0 C387.8 403.3 387.4 406.7 388.0 400.0 C388.6 393.3 390.1 380.0 390.5 370.0 C390.9 360.0 391.1 350.0 390.7 340.0 C390.3 330.0 389.3 319.2 388.0 310.0 C386.7 300.8 384.8 293.3 383.0 285.0 C381.2 276.7 378.9 267.2 377.0 260.0 C375.1 252.8 373.5 248.7 371.5 242.0 C369.5 235.3 367.2 227.0 365.0 220.0 C362.8 213.0 360.5 206.3 358.0 200.0 C355.5 193.7 352.7 188.0 350.0 182.0 C347.3 176.0 343.3 167.0 342.0 164.0 Z" fill="#049fe3"/>
<path d="M324.0 158.0 C325.4 161.3 329.8 171.0 332.5 178.0 C335.2 185.0 337.6 193.0 340.0 200.0 C342.4 207.0 344.7 212.5 347.0 220.0 C349.3 227.5 351.8 237.5 354.0 245.0 C356.2 252.5 358.0 258.3 360.0 265.0 C362.0 271.7 364.2 277.5 366.0 285.0 C367.8 292.5 369.2 300.8 370.5 310.0 C371.8 319.2 373.1 330.0 373.5 340.0 C373.9 350.0 373.3 360.8 372.8 370.0 C372.3 379.2 371.2 388.3 370.5 395.0 C369.8 401.7 369.6 402.5 368.5 410.0 C367.4 417.5 366.1 427.5 364.0 440.0 C361.9 452.5 357.3 477.5 356.0 485.0" stroke="#111" stroke-width="1.7" stroke-dasharray="7.5 3.2" fill="none"/>
<path d="M342.0 164.0 C343.3 167.0 347.3 176.0 350.0 182.0 C352.7 188.0 355.5 193.7 358.0 200.0 C360.5 206.3 362.8 213.0 365.0 220.0 C367.2 227.0 369.5 235.3 371.5 242.0 C373.5 248.7 375.1 252.8 377.0 260.0 C378.9 267.2 381.2 276.7 383.0 285.0 C384.8 293.3 386.7 300.8 388.0 310.0 C389.3 319.2 390.3 330.0 390.7 340.0 C391.1 350.0 390.9 360.0 390.5 370.0 C390.1 380.0 388.6 393.3 388.0 400.0 C387.4 406.7 387.8 403.3 387.0 410.0 C386.2 416.7 385.0 429.2 383.0 440.0 C381.0 450.8 377.7 465.2 375.0 475.0 C372.3 484.8 368.3 495.0 367.0 499.0" stroke="#111" stroke-width="1.7" stroke-dasharray="7.5 3.2" fill="none"/>
<path d="M218 127.5 L277 146.6 L277 151.5 L218.3 132.5 Z" fill="#00263d" opacity="0.3"/>
<path d="M316.5 159.3 L377.5 179 L377.7 185 L316.5 165.2 Z" fill="#00263d" opacity="0.32"/>
<path d="M232.0 461.0 C236.7 460.5 250.8 458.0 260.0 458.0 C269.2 458.0 278.2 459.5 287.0 461.0 C295.8 462.5 304.2 464.0 313.0 467.0 C321.8 470.0 331.5 474.3 340.0 479.0 C348.5 483.7 357.3 489.5 364.0 495.0 C370.7 500.5 377.3 509.2 380.0 512.0 L375.0 524.0 C372.3 521.8 364.8 515.3 359.0 511.0 C353.2 506.7 347.7 502.3 340.0 498.0 C332.3 493.7 321.8 488.5 313.0 485.0 C304.2 481.5 295.8 478.8 287.0 477.0 C278.2 475.2 269.0 474.3 260.0 474.0 C251.0 473.7 237.5 474.8 233.0 475.0 Z" fill="#049fe3"/>
<path d="M232.0 461.0 C236.7 460.5 250.8 458.0 260.0 458.0 C269.2 458.0 278.2 459.5 287.0 461.0 C295.8 462.5 304.2 464.0 313.0 467.0 C321.8 470.0 331.5 474.3 340.0 479.0 C348.5 483.7 357.3 489.5 364.0 495.0 C370.7 500.5 377.3 509.2 380.0 512.0 L375.0 524.0 C372.3 521.8 364.8 515.3 359.0 511.0 C353.2 506.7 347.7 502.3 340.0 498.0 C332.3 493.7 321.8 488.5 313.0 485.0 C304.2 481.5 295.8 478.8 287.0 477.0 C278.2 475.2 269.0 474.3 260.0 474.0 C251.0 473.7 237.5 474.8 233.0 475.0 Z" stroke="#111" stroke-width="1.7" stroke-dasharray="7.5 3.2" fill="none"/>
<path d="M233.5 396.0 C229.2 396.9 215.4 399.7 207.5 401.7 C199.6 403.7 193.2 405.4 186.0 408.0 C178.8 410.6 171.2 413.5 164.0 417.0 C156.8 420.5 147.9 425.2 142.5 428.8 C137.1 432.4 134.0 435.1 131.7 438.5 C129.3 441.9 128.8 445.1 128.4 449.0 C128.0 452.9 128.6 457.7 129.5 462.0 C130.4 466.3 132.2 470.8 134.0 475.0 C135.8 479.2 139.0 485.0 140.0 487.0 L140.0 487.0 C141.2 486.2 143.0 483.2 147.0 482.0 C151.0 480.8 157.5 479.9 164.0 479.7 C170.5 479.5 177.5 480.6 186.0 480.8 C194.5 481.0 210.2 480.8 215.0 480.8 L215.0 480.8 C218.1 479.0 230.4 471.8 233.5 470.0 Z" fill="#d8d8d8"/><g clip-path="url(#cp6)"><path d="M233.5 396.0 C229.2 396.9 215.4 399.7 207.5 401.7 C199.6 403.7 193.2 405.4 186.0 408.0 C178.8 410.6 171.2 413.5 164.0 417.0 C156.8 420.5 147.9 425.2 142.5 428.8 C137.1 432.4 134.0 435.1 131.7 438.5 C129.3 441.9 128.8 445.1 128.4 449.0 C128.0 452.9 128.6 457.7 129.5 462.0 C130.4 466.3 132.2 470.8 134.0 475.0 C135.8 479.2 139.0 485.0 140.0 487.0 L140.0 487.0 C141.2 486.2 143.0 483.2 147.0 482.0 C151.0 480.8 157.5 479.9 164.0 479.7 C170.5 479.5 177.5 480.6 186.0 480.8 C194.5 481.0 210.2 480.8 215.0 480.8 L215.0 480.8 C218.1 479.0 230.4 471.8 233.5 470.0 Z" fill="none" stroke="#454545" stroke-width="9" filter="url(#blur2)"/><path d="M236.0 399.0 C231.2 399.9 215.8 402.5 207.5 404.5 C199.2 406.5 193.2 408.4 186.0 411.0 C178.8 413.6 170.7 416.8 164.0 420.0 C157.3 423.2 149.0 428.3 146.0 430.0" fill="none" stroke="#e9e9e9" stroke-width="6" filter="url(#blur2)"/><ellipse cx="119.6" cy="414.1" rx="2.7" ry="5.8" fill="url(#dimp)"/><ellipse cx="128.8" cy="412.4" rx="2.7" ry="5.8" fill="url(#dimp)"/><ellipse cx="138.0" cy="410.7" rx="2.7" ry="5.8" fill="url(#dimp)"/><ellipse cx="147.2" cy="409.0" rx="2.7" ry="5.8" fill="url(#dimp)"/><ellipse cx="156.4" cy="407.3" rx="2.7" ry="5.8" fill="url(#dimp)"/><ellipse cx="165.6" cy="405.6" rx="2.7" ry="5.8" fill="url(#dimp)"/><ellipse cx="174.8" cy="403.9" rx="2.7" ry="5.8" fill="url(#dimp)"/><ellipse cx="184.0" cy="402.2" rx="2.7" ry="5.8" fill="url(#dimp)"/><ellipse cx="193.2" cy="400.5" rx="2.7" ry="5.8" fill="url(#dimp)"/><ellipse cx="202.4" cy="398.8" rx="2.7" ry="5.8" fill="url(#dimp)"/><ellipse cx="211.6" cy="397.1" rx="2.7" ry="5.8" fill="url(#dimp)"/><ellipse cx="220.8" cy="395.4" rx="2.7" ry="5.8" fill="url(#dimp)"/><ellipse cx="230.0" cy="393.7" rx="2.7" ry="5.8" fill="url(#dimp)"/><ellipse cx="239.2" cy="392.0" rx="2.7" ry="5.8" fill="url(#dimp)"/><ellipse cx="248.4" cy="390.3" rx="2.7" ry="5.8" fill="url(#dimp)"/><ellipse cx="119.6" cy="432.9" rx="2.7" ry="5.8" fill="url(#dimp)"/><ellipse cx="128.8" cy="431.2" rx="2.7" ry="5.8" fill="url(#dimp)"/><ellipse cx="138.0" cy="429.5" rx="2.7" ry="5.8" fill="url(#dimp)"/><ellipse cx="147.2" cy="427.8" rx="2.7" ry="5.8" fill="url(#dimp)"/><ellipse cx="156.4" cy="426.1" rx="2.7" ry="5.8" fill="url(#dimp)"/><ellipse cx="165.6" cy="424.4" rx="2.7" ry="5.8" fill="url(#dimp)"/><ellipse cx="174.8" cy="422.7" rx="2.7" ry="5.8" fill="url(#dimp)"/><ellipse cx="184.0" cy="421.0" rx="2.7" ry="5.8" fill="url(#dimp)"/><ellipse cx="193.2" cy="419.3" rx="2.7" ry="5.8" fill="url(#dimp)"/><ellipse cx="202.4" cy="417.6" rx="2.7" ry="5.8" fill="url(#dimp)"/><ellipse cx="211.6" cy="415.9" rx="2.7" ry="5.8" fill="url(#dimp)"/><ellipse cx="220.8" cy="414.2" rx="2.7" ry="5.8" fill="url(#dimp)"/><ellipse cx="230.0" cy="412.5" rx="2.7" ry="5.8" fill="url(#dimp)"/><ellipse cx="239.2" cy="410.8" rx="2.7" ry="5.8" fill="url(#dimp)"/><ellipse cx="248.4" cy="409.1" rx="2.7" ry="5.8" fill="url(#dimp)"/><ellipse cx="119.6" cy="451.7" rx="2.7" ry="5.8" fill="url(#dimp)"/><ellipse cx="128.8" cy="450.0" rx="2.7" ry="5.8" fill="url(#dimp)"/><ellipse cx="138.0" cy="448.3" rx="2.7" ry="5.8" fill="url(#dimp)"/><ellipse cx="147.2" cy="446.6" rx="2.7" ry="5.8" fill="url(#dimp)"/><ellipse cx="156.4" cy="444.9" rx="2.7" ry="5.8" fill="url(#dimp)"/><ellipse cx="165.6" cy="443.2" rx="2.7" ry="5.8" fill="url(#dimp)"/><ellipse cx="174.8" cy="441.5" rx="2.7" ry="5.8" fill="url(#dimp)"/><ellipse cx="184.0" cy="439.8" rx="2.7" ry="5.8" fill="url(#dimp)"/><ellipse cx="193.2" cy="438.1" rx="2.7" ry="5.8" fill="url(#dimp)"/><ellipse cx="202.4" cy="436.4" rx="2.7" ry="5.8" fill="url(#dimp)"/><ellipse cx="211.6" cy="434.7" rx="2.7" ry="5.8" fill="url(#dimp)"/><ellipse cx="220.8" cy="433.0" rx="2.7" ry="5.8" fill="url(#dimp)"/><ellipse cx="230.0" cy="431.3" rx="2.7" ry="5.8" fill="url(#dimp)"/><ellipse cx="239.2" cy="429.6" rx="2.7" ry="5.8" fill="url(#dimp)"/><ellipse cx="248.4" cy="427.9" rx="2.7" ry="5.8" fill="url(#dimp)"/><ellipse cx="119.6" cy="470.5" rx="2.7" ry="5.8" fill="url(#dimp)"/><ellipse cx="128.8" cy="468.8" rx="2.7" ry="5.8" fill="url(#dimp)"/><ellipse cx="138.0" cy="467.1" rx="2.7" ry="5.8" fill="url(#dimp)"/><ellipse cx="147.2" cy="465.4" rx="2.7" ry="5.8" fill="url(#dimp)"/><ellipse cx="156.4" cy="463.7" rx="2.7" ry="5.8" fill="url(#dimp)"/><ellipse cx="165.6" cy="462.0" rx="2.7" ry="5.8" fill="url(#dimp)"/><ellipse cx="174.8" cy="460.3" rx="2.7" ry="5.8" fill="url(#dimp)"/><ellipse cx="184.0" cy="458.6" rx="2.7" ry="5.8" fill="url(#dimp)"/><ellipse cx="193.2" cy="456.9" rx="2.7" ry="5.8" fill="url(#dimp)"/><ellipse cx="202.4" cy="455.2" rx="2.7" ry="5.8" fill="url(#dimp)"/><ellipse cx="211.6" cy="453.5" rx="2.7" ry="5.8" fill="url(#dimp)"/><ellipse cx="220.8" cy="451.8" rx="2.7" ry="5.8" fill="url(#dimp)"/><ellipse cx="230.0" cy="450.1" rx="2.7" ry="5.8" fill="url(#dimp)"/><ellipse cx="239.2" cy="448.4" rx="2.7" ry="5.8" fill="url(#dimp)"/><ellipse cx="248.4" cy="446.7" rx="2.7" ry="5.8" fill="url(#dimp)"/><ellipse cx="119.6" cy="489.3" rx="2.7" ry="5.8" fill="url(#dimp)"/><ellipse cx="128.8" cy="487.6" rx="2.7" ry="5.8" fill="url(#dimp)"/><ellipse cx="138.0" cy="485.9" rx="2.7" ry="5.8" fill="url(#dimp)"/><ellipse cx="147.2" cy="484.2" rx="2.7" ry="5.8" fill="url(#dimp)"/><ellipse cx="156.4" cy="482.5" rx="2.7" ry="5.8" fill="url(#dimp)"/><ellipse cx="165.6" cy="480.8" rx="2.7" ry="5.8" fill="url(#dimp)"/><ellipse cx="174.8" cy="479.1" rx="2.7" ry="5.8" fill="url(#dimp)"/><ellipse cx="184.0" cy="477.4" rx="2.7" ry="5.8" fill="url(#dimp)"/><ellipse cx="193.2" cy="475.7" rx="2.7" ry="5.8" fill="url(#dimp)"/><ellipse cx="202.4" cy="474.0" rx="2.7" ry="5.8" fill="url(#dimp)"/><ellipse cx="211.6" cy="472.3" rx="2.7" ry="5.8" fill="url(#dimp)"/><ellipse cx="220.8" cy="470.6" rx="2.7" ry="5.8" fill="url(#dimp)"/><ellipse cx="230.0" cy="468.9" rx="2.7" ry="5.8" fill="url(#dimp)"/><ellipse cx="239.2" cy="467.2" rx="2.7" ry="5.8" fill="url(#dimp)"/><ellipse cx="248.4" cy="465.5" rx="2.7" ry="5.8" fill="url(#dimp)"/><ellipse cx="119.6" cy="508.1" rx="2.7" ry="5.8" fill="url(#dimp)"/><ellipse cx="128.8" cy="506.4" rx="2.7" ry="5.8" fill="url(#dimp)"/><ellipse cx="138.0" cy="504.7" rx="2.7" ry="5.8" fill="url(#dimp)"/><ellipse cx="147.2" cy="503.0" rx="2.7" ry="5.8" fill="url(#dimp)"/><ellipse cx="156.4" cy="501.3" rx="2.7" ry="5.8" fill="url(#dimp)"/><ellipse cx="165.6" cy="499.6" rx="2.7" ry="5.8" fill="url(#dimp)"/><ellipse cx="174.8" cy="497.9" rx="2.7" ry="5.8" fill="url(#dimp)"/><ellipse cx="184.0" cy="496.2" rx="2.7" ry="5.8" fill="url(#dimp)"/><ellipse cx="193.2" cy="494.5" rx="2.7" ry="5.8" fill="url(#dimp)"/><ellipse cx="202.4" cy="492.8" rx="2.7" ry="5.8" fill="url(#dimp)"/><ellipse cx="211.6" cy="491.1" rx="2.7" ry="5.8" fill="url(#dimp)"/><ellipse cx="220.8" cy="489.4" rx="2.7" ry="5.8" fill="url(#dimp)"/><ellipse cx="230.0" cy="487.7" rx="2.7" ry="5.8" fill="url(#dimp)"/><ellipse cx="239.2" cy="486.0" rx="2.7" ry="5.8" fill="url(#dimp)"/><ellipse cx="248.4" cy="484.3" rx="2.7" ry="5.8" fill="url(#dimp)"/></g><path d="M233.5 396.0 C229.2 396.9 215.4 399.7 207.5 401.7 C199.6 403.7 193.2 405.4 186.0 408.0 C178.8 410.6 171.2 413.5 164.0 417.0 C156.8 420.5 147.9 425.2 142.5 428.8 C137.1 432.4 134.0 435.1 131.7 438.5 C129.3 441.9 128.8 445.1 128.4 449.0 C128.0 452.9 128.6 457.7 129.5 462.0 C130.4 466.3 132.2 470.8 134.0 475.0 C135.8 479.2 139.0 485.0 140.0 487.0 L140.0 487.0 C141.2 486.2 143.0 483.2 147.0 482.0 C151.0 480.8 157.5 479.9 164.0 479.7 C170.5 479.5 177.5 480.6 186.0 480.8 C194.5 481.0 210.2 480.8 215.0 480.8 L215.0 480.8 C218.1 479.0 230.4 471.8 233.5 470.0 Z" fill="none" stroke="#333" stroke-width="0.9"/>
<path d="M231.5 396 L231.5 478" stroke="#555" stroke-width="1" />
<path d="M233.0 393.5 C226.9 394.5 206.4 397.8 196.7 399.5 C187.0 401.2 182.3 402.1 175.0 404.0 C167.7 405.9 159.5 408.3 153.0 411.0 C146.5 413.7 140.7 416.5 136.0 420.0 C131.3 423.5 127.7 427.5 125.0 432.0 C122.3 436.5 120.6 441.2 119.7 447.0 C118.8 452.8 119.2 460.5 119.7 466.7 C120.2 472.9 121.4 478.3 123.0 484.0 C124.6 489.7 127.2 495.5 129.5 501.0 C131.8 506.5 133.9 511.7 137.0 517.0 C140.1 522.3 146.2 530.3 148.0 533.0" fill="none" stroke="#111" stroke-width="1.65" stroke-linecap="round"/>
<path d="M122.0 443.0 C122.1 446.9 121.7 459.9 122.5 466.7 C123.3 473.5 125.1 478.4 127.0 484.0 C128.9 489.6 131.5 495.3 134.0 500.0 C136.5 504.7 139.8 509.2 142.0 512.0 C144.2 514.8 146.2 516.2 147.0 517.0" fill="none" stroke="#111" stroke-width="1.3"/>
<path d="M140.5 488.5 L150 496.5" stroke="#111" stroke-width="1.3"/>
<path d="M212.7 528.7 C215.6 529.6 223.8 532.3 230.0 534.0 C236.2 535.7 240.3 536.8 250.0 539.0 C259.7 541.2 281.7 545.7 288.0 547.0" fill="none" stroke="#111" stroke-width="1.4"/>
<path d="M212.7 556.7 C215.6 557.4 224.3 559.7 230.0 561.0 C235.7 562.3 237.2 562.5 247.0 564.5 C256.8 566.5 282.0 571.6 289.0 573.0" fill="none" stroke="#111" stroke-width="1.4"/>
<path d="M176 370.5 L184.5 405 L195 398.5 Z" fill="#d0d0d0" stroke="#111" stroke-width="1.3" stroke-linejoin="round"/>
<path d="M375.0 524.0 C368.3 524.0 341.7 524.0 335.0 524.0 L335.0 524.0 C330.8 524.4 316.2 525.2 310.0 526.5 C303.8 527.8 300.8 528.8 297.5 531.5 C294.2 534.2 292.1 538.8 290.5 543.0 C288.9 547.2 287.7 552.2 288.0 557.0 C288.3 561.8 289.5 567.4 292.5 572.0 C295.5 576.6 300.4 580.7 306.0 584.5 C311.6 588.3 319.3 592.3 326.0 595.0 C332.7 597.7 339.7 599.4 346.0 600.5 C352.3 601.6 358.3 601.8 364.0 601.5 C369.7 601.2 375.2 600.5 380.0 599.0 C384.8 597.5 389.3 595.5 393.0 592.5 C396.7 589.5 399.8 587.8 402.0 581.0 C404.2 574.2 405.8 563.8 406.5 552.0 C407.2 540.2 406.1 517.0 406.0 510.0 L406.0 510.0 C405.2 510.0 403.4 508.8 401.5 510.0 C399.6 511.2 397.2 515.0 394.5 517.0 C391.8 519.0 388.2 520.8 385.0 522.0 C381.8 523.2 376.7 523.7 375.0 524.0 Z" fill="#fff" stroke="#111" stroke-width="1.65" stroke-linejoin="round"/>
<path d="M380.0 452.0 C382.2 454.5 389.5 461.5 393.0 467.0 C396.5 472.5 398.9 479.2 401.0 485.0 C403.1 490.8 404.5 497.5 405.3 502.0 C406.1 506.5 405.9 510.3 406.0 512.0" fill="none" stroke="#111" stroke-width="1.65"/>
<path d="M381.0 457.0 C383.3 460.0 391.7 468.5 395.0 475.0 C398.3 481.5 399.6 489.8 401.0 496.0 C402.4 502.2 403.1 509.3 403.5 512.0" fill="none" stroke="#111" stroke-width="1.3"/>
<path d="M215.0 506.0 C218.3 505.8 229.3 506.1 235.0 504.5 C240.7 502.9 246.7 497.8 249.0 496.5 L281.0 507.0 C283.7 508.4 294.3 514.1 297.0 515.5 L297.0 515.5 C296.0 516.9 293.7 521.4 291.0 524.0 C288.3 526.6 284.8 530.2 281.0 531.0 C277.2 531.8 273.7 531.0 268.0 529.0 C262.3 527.0 253.0 522.0 247.0 519.0 C241.0 516.0 234.5 512.3 232.0 511.0 Z" fill="#00953e"/>
<g fill="#fff" stroke="#111" stroke-width="1.25" stroke-linejoin="round" stroke-linecap="round"><path d="M164.7 501.3 L180 508 Q188 512 193.3 516.7 L198.7 521.3 L198.7 556 L188 555.3 Q184 551.5 180 550 L174.7 548.7 L164.7 544 Z"/><path d="M150 496 Q147 497.5 146.7 506 L147.3 527.3 Q147.8 533.5 152 536 L164.7 544 Q167.5 541 168.5 523.3 Q168 509 162.7 500 Z"/><path d="M152.7 502 L157.3 503.3 L157.3 534 L152.7 531.3 Z"/><path d="M162.7 504.7 Q165.8 514 165.3 523.3 Q165 533 163.3 540.7" fill="none"/><path d="M170.7 511.3 Q174 510.5 177.3 512.7 Q181.5 519 182 527.3 L176 528 Q175.5 520 170.7 516.5 Z"/><path d="M173.3 530.7 L180.7 531.3 Q181.5 536 180 539.3 Q176.5 542.5 172 542 Q174.5 537 173.3 530.7Z"/><path d="M180 512 Q184 510.8 186.7 512 Q193 515.5 197.3 520 L193.3 523.3 Q188.5 518.5 184 516.7 Z"/><path d="M180 546 Q182.5 544 185.3 544.7 Q192 548.5 198.7 554 L186.7 554 Q183.5 549.5 180 546Z"/><path d="M176 520 Q178.5 522 178.2 527.5 M176.5 533.5 Q178 536 176.5 539.5" fill="none" stroke-width="0.9"/><path d="M198.7 521.3 Q202 519 205.3 520 Q209 521.5 210.7 526 Q212.6 531 212.7 536.7 L212.7 559.3 Q211.5 563 209.3 563.3 Q205.5 562 202.7 558 L198.7 555.3 Z"/><path d="M202 524.7 L208 526 Q209.2 540 208.7 556.7 L203.3 552.7 Q205.2 546 204.7 539.3 Q203.8 531 202 524.7Z"/></g>
</svg>
</body></html>
